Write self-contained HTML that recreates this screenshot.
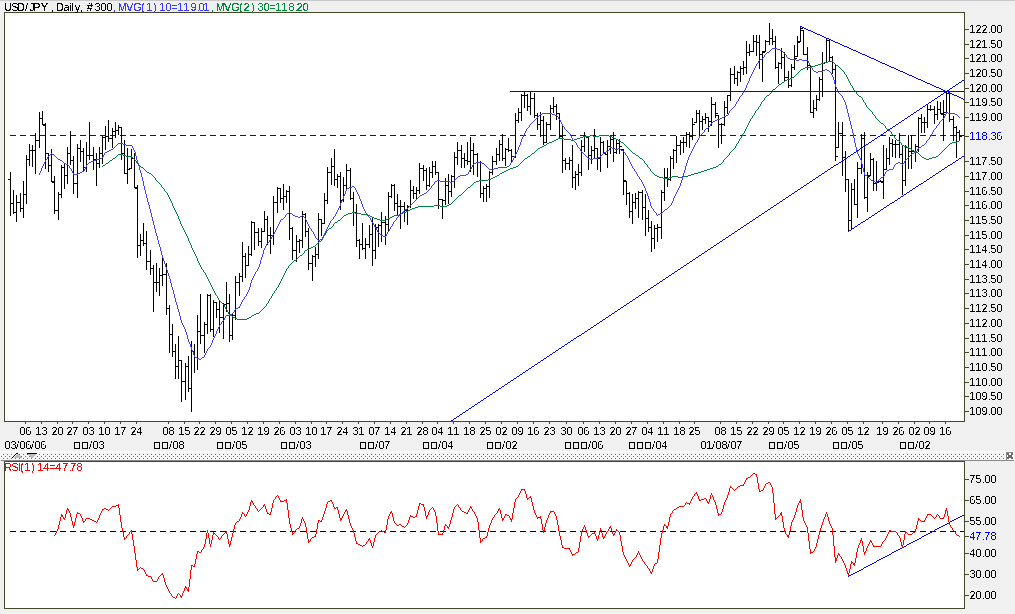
<!DOCTYPE html>
<html><head><meta charset="utf-8"><style>
html,body{margin:0;padding:0;background:#f0f0f0;overflow:hidden}
svg{display:block}
</style></head><body>
<svg width="1015" height="614" viewBox="0 0 1015 614">
<rect x="0" y="0" width="1015" height="614" fill="#f0f0f0"/><rect x="0" y="0" width="1015" height="1" fill="#c8c8c8"/><rect x="4.5" y="12.5" width="960" height="409" fill="#fff" stroke="#48482a" stroke-width="1"/><rect x="4.5" y="461.5" width="960" height="147" fill="#fff" stroke="#48482a" stroke-width="1"/>
<g shape-rendering="crispEdges">
<g clip-path="url(#cm)"><line x1="10" y1="135.5" x2="964" y2="135.5" stroke="#0000ff" stroke-width="1" stroke-dasharray="6 4"/><path d="M10 172h1v44h-1zM8 179h2v1h-2zM11 203h2v1h-2zM13 190h1v24h-1zM11 203h2v1h-2zM14 212h2v1h-2zM16 195h1v27h-1zM14 212h2v1h-2zM17 202h2v1h-2zM20 193h1v19h-1zM18 202h2v1h-2zM21 208h2v1h-2zM23 181h1v37h-1zM21 208h2v1h-2zM24 194h2v1h-2zM26 155h1v49h-1zM24 194h2v1h-2zM27 159h2v1h-2zM29 144h1v22h-1zM27 159h2v1h-2zM30 150h2v1h-2zM32 145h1v22h-1zM30 150h2v1h-2zM33 150h2v1h-2zM35 133h1v41h-1zM33 150h2v1h-2zM36 140h2v1h-2zM39 112h1v36h-1zM37 140h2v1h-2zM40 118h2v1h-2zM42 111h1v14h-1zM40 118h2v1h-2zM43 124h2v1h-2zM45 123h1v46h-1zM43 125h2v1h-2zM46 153h2v1h-2zM48 153h1v19h-1zM46 153h2v1h-2zM49 165h2v1h-2zM51 149h1v33h-1zM49 165h2v1h-2zM52 181h2v1h-2zM54 176h1v38h-1zM52 182h2v1h-2zM55 210h2v1h-2zM58 192h1v28h-1zM56 210h2v1h-2zM59 194h2v1h-2zM61 165h1v33h-1zM59 194h2v1h-2zM62 167h2v1h-2zM64 164h1v25h-1zM62 167h2v1h-2zM65 175h2v1h-2zM67 147h1v37h-1zM65 175h2v1h-2zM68 153h2v1h-2zM70 131h1v34h-1zM68 153h2v1h-2zM71 160h2v1h-2zM73 156h1v38h-1zM71 160h2v1h-2zM74 183h2v1h-2zM77 144h1v54h-1zM75 183h2v1h-2zM78 148h2v1h-2zM80 140h1v22h-1zM78 148h2v1h-2zM81 151h2v1h-2zM83 148h1v24h-1zM81 151h2v1h-2zM84 167h2v1h-2zM86 142h1v30h-1zM84 167h2v1h-2zM87 155h2v1h-2zM89 122h1v38h-1zM87 155h2v1h-2zM90 155h2v1h-2zM93 147h1v23h-1zM91 155h2v1h-2zM94 159h2v1h-2zM96 153h1v33h-1zM94 159h2v1h-2zM97 163h2v1h-2zM99 147h1v21h-1zM97 163h2v1h-2zM100 153h2v1h-2zM102 136h1v28h-1zM100 153h2v1h-2zM103 137h2v1h-2zM105 126h1v24h-1zM103 137h2v1h-2zM106 136h2v1h-2zM108 120h1v22h-1zM106 136h2v1h-2zM109 138h2v1h-2zM112 128h1v20h-1zM110 138h2v1h-2zM113 131h2v1h-2zM115 122h1v16h-1zM113 131h2v1h-2zM116 130h2v1h-2zM118 125h1v10h-1zM116 130h2v1h-2zM119 127h2v1h-2zM121 127h1v33h-1zM119 127h2v1h-2zM122 153h2v1h-2zM124 140h1v34h-1zM122 153h2v1h-2zM125 173h2v1h-2zM127 148h1v36h-1zM125 173h2v1h-2zM128 169h2v1h-2zM131 149h1v20h-1zM129 168h2v1h-2zM132 158h2v1h-2zM134 153h1v35h-1zM132 158h2v1h-2zM135 187h2v1h-2zM137 185h1v73h-1zM135 188h2v1h-2zM138 245h2v1h-2zM140 234h1v22h-1zM138 245h2v1h-2zM141 240h2v1h-2zM143 223h1v23h-1zM141 240h2v1h-2zM144 243h2v1h-2zM146 231h1v39h-1zM144 243h2v1h-2zM147 261h2v1h-2zM150 250h1v25h-1zM148 261h2v1h-2zM151 268h2v1h-2zM153 265h1v47h-1zM151 268h2v1h-2zM154 282h2v1h-2zM156 263h1v29h-1zM154 282h2v1h-2zM157 282h2v1h-2zM159 268h1v28h-1zM157 282h2v1h-2zM160 275h2v1h-2zM162 258h1v28h-1zM160 275h2v1h-2zM163 274h2v1h-2zM166 263h1v52h-1zM164 274h2v1h-2zM167 308h2v1h-2zM169 305h1v48h-1zM167 308h2v1h-2zM170 334h2v1h-2zM172 324h1v33h-1zM170 334h2v1h-2zM173 351h2v1h-2zM175 344h1v35h-1zM173 351h2v1h-2zM176 366h2v1h-2zM178 336h1v43h-1zM176 366h2v1h-2zM179 360h2v1h-2zM181 360h1v42h-1zM179 360h2v1h-2zM182 381h2v1h-2zM185 363h1v37h-1zM183 381h2v1h-2zM186 366h2v1h-2zM188 356h1v36h-1zM186 366h2v1h-2zM189 388h2v1h-2zM191 341h1v71h-1zM189 388h2v1h-2zM192 351h2v1h-2zM194 344h1v29h-1zM192 351h2v1h-2zM195 357h2v1h-2zM197 315h1v55h-1zM195 357h2v1h-2zM198 331h2v1h-2zM200 294h1v50h-1zM198 331h2v1h-2zM201 335h2v1h-2zM204 322h1v31h-1zM202 335h2v1h-2zM205 324h2v1h-2zM207 294h1v40h-1zM205 324h2v1h-2zM208 295h2v1h-2zM210 294h1v38h-1zM208 295h2v1h-2zM211 329h2v1h-2zM213 300h1v37h-1zM211 329h2v1h-2zM214 302h2v1h-2zM216 302h1v16h-1zM214 302h2v1h-2zM217 309h2v1h-2zM219 300h1v33h-1zM217 309h2v1h-2zM220 317h2v1h-2zM223 303h1v36h-1zM221 317h2v1h-2zM224 304h2v1h-2zM226 282h1v30h-1zM224 304h2v1h-2zM227 303h2v1h-2zM229 294h1v48h-1zM227 303h2v1h-2zM230 335h2v1h-2zM232 314h1v26h-1zM230 335h2v1h-2zM233 315h2v1h-2zM235 276h1v44h-1zM233 315h2v1h-2zM236 282h2v1h-2zM239 273h1v23h-1zM237 282h2v1h-2zM240 276h2v1h-2zM242 242h1v40h-1zM240 276h2v1h-2zM243 256h2v1h-2zM245 253h1v25h-1zM243 256h2v1h-2zM246 265h2v1h-2zM248 246h1v20h-1zM246 265h2v1h-2zM249 254h2v1h-2zM251 221h1v35h-1zM249 254h2v1h-2zM252 222h2v1h-2zM254 222h1v28h-1zM252 222h2v1h-2zM255 232h2v1h-2zM258 228h1v18h-1zM256 232h2v1h-2zM259 241h2v1h-2zM261 228h1v20h-1zM259 241h2v1h-2zM262 231h2v1h-2zM264 211h1v21h-1zM262 231h2v1h-2zM265 219h2v1h-2zM267 216h1v29h-1zM265 219h2v1h-2zM268 235h2v1h-2zM270 227h1v27h-1zM268 235h2v1h-2zM271 235h2v1h-2zM273 196h1v49h-1zM271 235h2v1h-2zM274 202h2v1h-2zM277 187h1v26h-1zM275 202h2v1h-2zM278 188h2v1h-2zM280 188h1v15h-1zM278 188h2v1h-2zM281 198h2v1h-2zM283 184h1v26h-1zM281 198h2v1h-2zM284 196h2v1h-2zM286 190h1v13h-1zM284 196h2v1h-2zM287 191h2v1h-2zM289 186h1v54h-1zM287 191h2v1h-2zM290 228h2v1h-2zM292 227h1v33h-1zM290 228h2v1h-2zM293 250h2v1h-2zM296 235h1v27h-1zM294 250h2v1h-2zM297 241h2v1h-2zM299 239h1v14h-1zM297 241h2v1h-2zM300 240h2v1h-2zM302 211h1v37h-1zM300 240h2v1h-2zM303 214h2v1h-2zM305 213h1v24h-1zM303 214h2v1h-2zM306 231h2v1h-2zM308 228h1v42h-1zM306 231h2v1h-2zM309 263h2v1h-2zM312 255h1v26h-1zM310 263h2v1h-2zM313 256h2v1h-2zM315 247h1v20h-1zM313 256h2v1h-2zM316 254h2v1h-2zM318 213h1v46h-1zM316 254h2v1h-2zM319 219h2v1h-2zM321 219h1v17h-1zM319 219h2v1h-2zM322 223h2v1h-2zM324 193h1v31h-1zM322 223h2v1h-2zM325 200h2v1h-2zM327 167h1v37h-1zM325 200h2v1h-2zM328 172h2v1h-2zM331 158h1v27h-1zM329 172h2v1h-2zM332 166h2v1h-2zM334 149h1v37h-1zM332 166h2v1h-2zM335 179h2v1h-2zM337 174h1v14h-1zM335 179h2v1h-2zM338 176h2v1h-2zM340 172h1v38h-1zM338 176h2v1h-2zM341 200h2v1h-2zM343 177h1v25h-1zM341 200h2v1h-2zM344 185h2v1h-2zM346 164h1v26h-1zM344 185h2v1h-2zM347 170h2v1h-2zM350 168h1v32h-1zM348 170h2v1h-2zM351 198h2v1h-2zM353 192h1v34h-1zM351 198h2v1h-2zM354 212h2v1h-2zM356 204h1v43h-1zM354 212h2v1h-2zM357 240h2v1h-2zM359 239h1v20h-1zM357 240h2v1h-2zM360 244h2v1h-2zM362 223h1v27h-1zM360 244h2v1h-2zM363 248h2v1h-2zM365 238h1v21h-1zM363 248h2v1h-2zM366 244h2v1h-2zM369 225h1v23h-1zM367 244h2v1h-2zM370 234h2v1h-2zM372 218h1v48h-1zM370 234h2v1h-2zM373 250h2v1h-2zM375 224h1v35h-1zM373 250h2v1h-2zM376 227h2v1h-2zM378 224h1v23h-1zM376 227h2v1h-2zM379 225h2v1h-2zM381 212h1v30h-1zM379 225h2v1h-2zM382 222h2v1h-2zM385 216h1v29h-1zM383 222h2v1h-2zM386 224h2v1h-2zM388 192h1v40h-1zM386 224h2v1h-2zM389 196h2v1h-2zM391 184h1v14h-1zM389 196h2v1h-2zM392 185h2v1h-2zM394 184h1v27h-1zM392 185h2v1h-2zM395 203h2v1h-2zM397 194h1v22h-1zM395 203h2v1h-2zM398 206h2v1h-2zM400 200h1v29h-1zM398 206h2v1h-2zM401 206h2v1h-2zM404 202h1v20h-1zM402 206h2v1h-2zM405 210h2v1h-2zM407 205h1v20h-1zM405 210h2v1h-2zM408 206h2v1h-2zM410 180h1v28h-1zM408 206h2v1h-2zM411 190h2v1h-2zM413 186h1v13h-1zM411 190h2v1h-2zM414 193h2v1h-2zM416 187h1v13h-1zM414 193h2v1h-2zM417 190h2v1h-2zM419 163h1v31h-1zM417 190h2v1h-2zM420 168h2v1h-2zM423 165h1v16h-1zM421 168h2v1h-2zM424 170h2v1h-2zM426 168h1v22h-1zM424 170h2v1h-2zM427 185h2v1h-2zM429 167h1v20h-1zM427 185h2v1h-2zM430 172h2v1h-2zM432 161h1v17h-1zM430 172h2v1h-2zM433 166h2v1h-2zM435 161h1v14h-1zM433 166h2v1h-2zM436 172h2v1h-2zM438 172h1v37h-1zM436 172h2v1h-2zM439 199h2v1h-2zM442 199h1v20h-1zM440 199h2v1h-2zM443 200h2v1h-2zM445 178h1v27h-1zM443 200h2v1h-2zM446 185h2v1h-2zM448 174h1v30h-1zM446 185h2v1h-2zM449 191h2v1h-2zM451 175h1v22h-1zM449 191h2v1h-2zM452 176h2v1h-2zM454 152h1v36h-1zM452 176h2v1h-2zM455 157h2v1h-2zM457 142h1v23h-1zM455 157h2v1h-2zM458 150h2v1h-2zM461 145h1v23h-1zM459 150h2v1h-2zM462 158h2v1h-2zM464 153h1v15h-1zM462 158h2v1h-2zM465 160h2v1h-2zM467 142h1v23h-1zM465 160h2v1h-2zM468 161h2v1h-2zM470 137h1v35h-1zM468 161h2v1h-2zM471 150h2v1h-2zM473 143h1v32h-1zM471 150h2v1h-2zM474 154h2v1h-2zM477 153h1v24h-1zM475 154h2v1h-2zM478 162h2v1h-2zM480 161h1v37h-1zM478 162h2v1h-2zM481 193h2v1h-2zM483 186h1v16h-1zM481 193h2v1h-2zM484 188h2v1h-2zM486 184h1v18h-1zM484 188h2v1h-2zM487 186h2v1h-2zM489 171h1v27h-1zM487 186h2v1h-2zM490 172h2v1h-2zM492 156h1v19h-1zM490 172h2v1h-2zM493 161h2v1h-2zM496 148h1v17h-1zM494 161h2v1h-2zM497 154h2v1h-2zM499 140h1v21h-1zM497 154h2v1h-2zM500 144h2v1h-2zM502 134h1v27h-1zM500 144h2v1h-2zM503 158h2v1h-2zM505 148h1v18h-1zM503 158h2v1h-2zM506 149h2v1h-2zM508 138h1v14h-1zM506 149h2v1h-2zM509 150h2v1h-2zM511 149h1v14h-1zM509 150h2v1h-2zM512 156h2v1h-2zM515 113h1v45h-1zM513 156h2v1h-2zM516 120h2v1h-2zM518 108h1v15h-1zM516 120h2v1h-2zM519 112h2v1h-2zM521 94h1v27h-1zM519 112h2v1h-2zM522 95h2v1h-2zM524 92h1v16h-1zM522 95h2v1h-2zM525 95h2v1h-2zM527 94h1v17h-1zM525 95h2v1h-2zM528 106h2v1h-2zM530 92h1v23h-1zM528 106h2v1h-2zM531 98h2v1h-2zM534 93h1v25h-1zM532 98h2v1h-2zM535 115h2v1h-2zM537 113h1v17h-1zM535 115h2v1h-2zM538 124h2v1h-2zM540 112h1v25h-1zM538 124h2v1h-2zM541 120h2v1h-2zM543 116h1v29h-1zM541 120h2v1h-2zM544 142h2v1h-2zM546 122h1v21h-1zM544 142h2v1h-2zM547 124h2v1h-2zM550 105h1v25h-1zM548 124h2v1h-2zM551 108h2v1h-2zM553 97h1v16h-1zM551 108h2v1h-2zM554 106h2v1h-2zM556 104h1v16h-1zM554 106h2v1h-2zM557 113h2v1h-2zM559 113h1v25h-1zM557 113h2v1h-2zM560 136h2v1h-2zM562 125h1v48h-1zM560 136h2v1h-2zM563 160h2v1h-2zM565 158h1v12h-1zM563 160h2v1h-2zM566 163h2v1h-2zM569 157h1v13h-1zM567 163h2v1h-2zM570 160h2v1h-2zM572 145h1v43h-1zM570 160h2v1h-2zM573 177h2v1h-2zM575 171h1v19h-1zM573 177h2v1h-2zM576 174h2v1h-2zM578 164h1v22h-1zM576 174h2v1h-2zM579 172h2v1h-2zM581 140h1v36h-1zM579 172h2v1h-2zM582 146h2v1h-2zM584 132h1v20h-1zM582 146h2v1h-2zM585 136h2v1h-2zM588 137h1v33h-1zM586 137h2v1h-2zM589 155h2v1h-2zM591 146h1v18h-1zM589 155h2v1h-2zM592 150h2v1h-2zM594 129h1v29h-1zM592 150h2v1h-2zM595 148h2v1h-2zM597 148h1v22h-1zM595 148h2v1h-2zM598 158h2v1h-2zM600 137h1v35h-1zM598 158h2v1h-2zM601 142h2v1h-2zM603 141h1v13h-1zM601 142h2v1h-2zM604 153h2v1h-2zM607 140h1v28h-1zM605 154h2v1h-2zM608 146h2v1h-2zM610 137h1v17h-1zM608 146h2v1h-2zM611 139h2v1h-2zM613 132h1v30h-1zM611 139h2v1h-2zM614 152h2v1h-2zM616 139h1v15h-1zM614 152h2v1h-2zM617 143h2v1h-2zM619 139h1v15h-1zM617 143h2v1h-2zM620 146h2v1h-2zM623 149h1v46h-1zM621 149h2v1h-2zM624 180h2v1h-2zM626 181h1v24h-1zM624 181h2v1h-2zM627 193h2v1h-2zM629 192h1v26h-1zM627 193h2v1h-2zM630 211h2v1h-2zM632 194h1v30h-1zM630 211h2v1h-2zM633 202h2v1h-2zM635 193h1v16h-1zM633 202h2v1h-2zM636 198h2v1h-2zM638 191h1v27h-1zM636 198h2v1h-2zM639 192h2v1h-2zM642 190h1v30h-1zM640 192h2v1h-2zM643 207h2v1h-2zM645 194h1v42h-1zM643 207h2v1h-2zM646 218h2v1h-2zM648 210h1v22h-1zM646 218h2v1h-2zM649 227h2v1h-2zM651 221h1v31h-1zM649 227h2v1h-2zM652 238h2v1h-2zM654 225h1v24h-1zM652 238h2v1h-2zM655 228h2v1h-2zM657 224h1v18h-1zM655 228h2v1h-2zM658 227h2v1h-2zM661 190h1v49h-1zM659 227h2v1h-2zM662 192h2v1h-2zM664 168h1v33h-1zM662 192h2v1h-2zM665 177h2v1h-2zM667 168h1v19h-1zM665 177h2v1h-2zM668 179h2v1h-2zM670 156h1v25h-1zM668 179h2v1h-2zM671 158h2v1h-2zM673 149h1v20h-1zM671 158h2v1h-2zM674 150h2v1h-2zM676 136h1v27h-1zM674 150h2v1h-2zM677 145h2v1h-2zM680 140h1v15h-1zM678 145h2v1h-2zM681 142h2v1h-2zM683 137h1v16h-1zM681 142h2v1h-2zM684 142h2v1h-2zM686 132h1v15h-1zM684 142h2v1h-2zM687 134h2v1h-2zM689 132h1v16h-1zM687 134h2v1h-2zM690 136h2v1h-2zM692 118h1v22h-1zM690 136h2v1h-2zM693 124h2v1h-2zM696 110h1v13h-1zM694 122h2v1h-2zM697 113h2v1h-2zM699 110h1v28h-1zM697 113h2v1h-2zM700 121h2v1h-2zM702 116h1v14h-1zM700 121h2v1h-2zM703 119h2v1h-2zM705 113h1v11h-1zM703 119h2v1h-2zM706 117h2v1h-2zM708 117h1v15h-1zM706 117h2v1h-2zM709 121h2v1h-2zM711 97h1v29h-1zM709 121h2v1h-2zM712 104h2v1h-2zM715 102h1v16h-1zM713 104h2v1h-2zM716 113h2v1h-2zM718 115h1v33h-1zM716 115h2v1h-2zM719 124h2v1h-2zM721 123h1v21h-1zM719 124h2v1h-2zM722 124h2v1h-2zM724 101h1v25h-1zM722 124h2v1h-2zM725 107h2v1h-2zM727 95h1v19h-1zM725 107h2v1h-2zM728 95h2v1h-2zM730 68h1v33h-1zM728 95h2v1h-2zM731 74h2v1h-2zM734 66h1v18h-1zM732 74h2v1h-2zM735 78h2v1h-2zM737 71h1v15h-1zM735 78h2v1h-2zM738 72h2v1h-2zM740 66h1v16h-1zM738 72h2v1h-2zM741 68h2v1h-2zM743 61h1v14h-1zM741 68h2v1h-2zM744 67h2v1h-2zM746 41h1v33h-1zM744 67h2v1h-2zM747 52h2v1h-2zM749 44h1v12h-1zM747 52h2v1h-2zM750 51h2v1h-2zM753 35h1v17h-1zM751 51h2v1h-2zM754 41h2v1h-2zM756 35h1v21h-1zM754 41h2v1h-2zM757 42h2v1h-2zM759 35h1v34h-1zM757 42h2v1h-2zM760 54h2v1h-2zM762 51h1v31h-1zM760 54h2v1h-2zM763 52h2v1h-2zM765 40h1v12h-1zM763 51h2v1h-2zM766 41h2v1h-2zM769 23h1v22h-1zM767 41h2v1h-2zM770 38h2v1h-2zM772 29h1v16h-1zM770 38h2v1h-2zM773 41h2v1h-2zM775 36h1v33h-1zM773 41h2v1h-2zM776 67h2v1h-2zM778 62h1v22h-1zM776 67h2v1h-2zM779 63h2v1h-2zM781 48h1v21h-1zM779 63h2v1h-2zM782 57h2v1h-2zM784 52h1v29h-1zM782 57h2v1h-2zM785 77h2v1h-2zM788 71h1v17h-1zM786 77h2v1h-2zM789 85h2v1h-2zM791 64h1v23h-1zM789 85h2v1h-2zM792 67h2v1h-2zM794 45h1v25h-1zM792 67h2v1h-2zM795 58h2v1h-2zM797 36h1v21h-1zM795 56h2v1h-2zM798 42h2v1h-2zM800 26h1v16h-1zM798 41h2v1h-2zM801 28h2v1h-2zM803 30h1v25h-1zM801 30h2v1h-2zM804 54h2v1h-2zM807 47h1v23h-1zM805 54h2v1h-2zM808 65h2v1h-2zM810 65h1v48h-1zM808 65h2v1h-2zM811 112h2v1h-2zM813 100h1v18h-1zM811 112h2v1h-2zM814 108h2v1h-2zM816 95h1v16h-1zM814 108h2v1h-2zM817 99h2v1h-2zM819 77h1v24h-1zM817 99h2v1h-2zM820 79h2v1h-2zM822 52h1v45h-1zM820 79h2v1h-2zM823 63h2v1h-2zM826 38h1v25h-1zM824 62h2v1h-2zM827 40h2v1h-2zM829 39h1v22h-1zM827 40h2v1h-2zM830 57h2v1h-2zM832 56h1v18h-1zM830 57h2v1h-2zM833 69h2v1h-2zM835 65h1v96h-1zM833 69h2v1h-2zM836 156h2v1h-2zM838 122h1v26h-1zM836 147h2v1h-2zM839 133h2v1h-2zM842 122h1v54h-1zM840 133h2v1h-2zM843 157h2v1h-2zM845 151h1v41h-1zM843 157h2v1h-2zM846 179h2v1h-2zM848 179h1v52h-1zM846 179h2v1h-2zM849 220h2v1h-2zM851 183h1v47h-1zM849 220h2v1h-2zM852 189h2v1h-2zM854 179h1v26h-1zM852 189h2v1h-2zM855 204h2v1h-2zM857 162h1v56h-1zM855 204h2v1h-2zM858 168h2v1h-2zM861 134h1v40h-1zM859 168h2v1h-2zM862 138h2v1h-2zM864 132h1v67h-1zM862 138h2v1h-2zM865 197h2v1h-2zM867 172h1v40h-1zM865 197h2v1h-2zM868 176h2v1h-2zM870 153h1v23h-1zM868 175h2v1h-2zM871 159h2v1h-2zM873 158h1v33h-1zM871 159h2v1h-2zM874 183h2v1h-2zM876 161h1v30h-1zM874 183h2v1h-2zM877 182h2v1h-2zM880 180h1v2h-1zM878 181h2v1h-2zM881 181h2v1h-2zM883 145h1v54h-1zM881 182h2v1h-2zM884 169h2v1h-2zM886 148h1v22h-1zM884 169h2v1h-2zM887 158h2v1h-2zM889 137h1v28h-1zM887 158h2v1h-2zM890 143h2v1h-2zM892 139h1v18h-1zM890 143h2v1h-2zM893 144h2v1h-2zM895 140h1v18h-1zM893 144h2v1h-2zM896 144h2v1h-2zM899 133h1v25h-1zM897 144h2v1h-2zM900 154h2v1h-2zM902 146h1v49h-1zM900 154h2v1h-2zM903 180h2v1h-2zM905 145h1v41h-1zM903 180h2v1h-2zM906 147h2v1h-2zM908 135h1v34h-1zM906 147h2v1h-2zM909 151h2v1h-2zM911 135h1v34h-1zM909 151h2v1h-2zM912 151h2v1h-2zM915 144h1v18h-1zM913 151h2v1h-2zM916 146h2v1h-2zM918 117h1v35h-1zM916 146h2v1h-2zM919 118h2v1h-2zM921 114h1v19h-1zM919 118h2v1h-2zM922 122h2v1h-2zM924 117h1v16h-1zM922 122h2v1h-2zM925 122h2v1h-2zM927 105h1v23h-1zM925 122h2v1h-2zM928 109h2v1h-2zM930 105h1v6h-1zM928 109h2v1h-2zM931 109h2v1h-2zM934 106h1v18h-1zM932 109h2v1h-2zM935 114h2v1h-2zM937 101h1v19h-1zM935 114h2v1h-2zM938 109h2v1h-2zM940 102h1v12h-1zM938 109h2v1h-2zM941 113h2v1h-2zM943 100h1v41h-1zM941 114h2v1h-2zM944 114h2v1h-2zM946 91h1v22h-1zM944 112h2v1h-2zM947 93h2v1h-2zM949 91h1v31h-1zM947 93h2v1h-2zM950 119h2v1h-2zM953 116h1v25h-1zM951 119h2v1h-2zM954 127h2v1h-2zM956 126h1v32h-1zM954 127h2v1h-2zM957 132h2v1h-2zM959 130h1v10h-1zM957 132h2v1h-2zM960 136h2v1h-2z" fill="#000"/><path d="M194 252h1v1h-1zM304 252h1v1h-1zM212 288h1v1h-1zM276 288h1v1h-1zM204 272h1v1h-1zM285 272h1v1h-1zM176 213h1v1h-1zM348 213h4v1h-4zM355 213h6v1h-6zM401 213h2v1h-2zM192 248h1v1h-1zM309 248h2v1h-2zM558 138h6v1h-6zM577 138h3v1h-3zM614 138h2v1h-2zM740 138h1v1h-1zM895 138h1v1h-1zM215 293h1v1h-1zM273 293h1v1h-1zM757 109h1v1h-1zM869 109h1v1h-1zM549 142h3v1h-3zM621 142h2v1h-2zM738 142h1v1h-1zM900 142h1v1h-1zM952 142h5v1h-5zM172 205h1v1h-1zM434 205h6v1h-6zM447 205h2v1h-2zM546 144h1v1h-1zM624 144h1v1h-1zM736 144h1v1h-1zM901 144h1v1h-1zM949 144h1v1h-1zM542 146h2v1h-2zM626 146h1v1h-1zM735 146h1v1h-1zM904 146h3v1h-3zM947 146h1v1h-1zM805 67h7v1h-7zM839 67h1v1h-1zM556 139h2v1h-2zM564 139h7v1h-7zM574 139h3v1h-3zM616 139h2v1h-2zM739 139h1v1h-1zM896 139h1v1h-1zM155 178h1v1h-1zM491 178h2v1h-2zM663 178h6v1h-6zM764 99h1v1h-1zM862 99h1v1h-1zM228 313h1v1h-1zM256 313h3v1h-3zM191 245h1v1h-1zM315 245h1v1h-1zM147 172h2v1h-2zM502 172h2v1h-2zM652 172h1v1h-1zM698 172h3v1h-3zM770 93h1v1h-1zM856 93h1v1h-1zM209 282h1v1h-1zM280 282h1v1h-1zM812 66h3v1h-3zM838 66h1v1h-1zM152 175h1v1h-1zM497 175h2v1h-2zM655 175h2v1h-2zM688 175h3v1h-3zM197 259h1v1h-1zM296 259h1v1h-1zM540 147h2v1h-2zM627 147h1v1h-1zM735 147h1v1h-1zM907 147h2v1h-2zM946 147h1v1h-1zM761 102h1v1h-1zM864 102h1v1h-1zM750 120h1v1h-1zM878 120h1v1h-1zM554 140h2v1h-2zM571 140h3v1h-3zM618 140h2v1h-2zM739 140h1v1h-1zM897 140h2v1h-2zM959 140h1v1h-1zM113 158h2v1h-2zM133 158h1v1h-1zM525 158h2v1h-2zM640 158h2v1h-2zM725 158h1v1h-1zM924 158h2v1h-2zM929 158h3v1h-3zM144 169h1v1h-1zM508 169h2v1h-2zM650 169h1v1h-1zM707 169h3v1h-3zM146 171h1v1h-1zM504 171h2v1h-2zM651 171h1v1h-1zM701 171h3v1h-3zM227 310h1v1h-1zM261 310h1v1h-1zM179 220h1v1h-1zM338 220h2v1h-2zM380 220h6v1h-6zM183 229h1v1h-1zM328 229h1v1h-1zM230 315h2v1h-2zM252 315h2v1h-2zM173 206h1v1h-1zM418 206h16v1h-16zM440 206h7v1h-7zM157 181h1v1h-1zM476 181h3v1h-3zM777 86h1v1h-1zM852 86h1v1h-1zM177 214h1v1h-1zM346 214h2v1h-2zM361 214h6v1h-6zM399 214h2v1h-2zM821 63h3v1h-3zM834 63h1v1h-1zM175 211h1v1h-1zM406 211h2v1h-2zM748 123h1v1h-1zM881 123h2v1h-2zM182 226h1v1h-1zM332 226h1v1h-1zM108 162h1v1h-1zM136 162h1v1h-1zM521 162h1v1h-1zM644 162h1v1h-1zM722 162h1v1h-1zM145 170h1v1h-1zM506 170h2v1h-2zM650 170h1v1h-1zM704 170h3v1h-3zM779 84h2v1h-2zM850 84h1v1h-1zM118 154h5v1h-5zM531 154h1v1h-1zM635 154h1v1h-1zM729 154h1v1h-1zM919 154h1v1h-1zM939 154h1v1h-1zM159 183h1v1h-1zM473 183h1v1h-1zM154 177h1v1h-1zM493 177h2v1h-2zM659 177h4v1h-4zM669 177h3v1h-3zM678 177h4v1h-4zM590 135h3v1h-3zM599 135h10v1h-10zM742 135h1v1h-1zM893 135h1v1h-1zM763 100h1v1h-1zM863 100h1v1h-1zM544 145h2v1h-2zM625 145h1v1h-1zM736 145h1v1h-1zM902 145h2v1h-2zM948 145h1v1h-1zM760 105h1v1h-1zM866 105h1v1h-1zM116 156h1v1h-1zM126 156h6v1h-6zM528 156h2v1h-2zM638 156h1v1h-1zM727 156h1v1h-1zM921 156h1v1h-1zM936 156h2v1h-2zM149 173h2v1h-2zM500 173h2v1h-2zM653 173h1v1h-1zM694 173h4v1h-4zM180 223h1v1h-1zM334 223h1v1h-1zM141 167h2v1h-2zM513 167h3v1h-3zM648 167h1v1h-1zM713 167h3v1h-3zM583 136h7v1h-7zM593 136h6v1h-6zM609 136h3v1h-3zM741 136h1v1h-1zM894 136h1v1h-1zM784 81h1v1h-1zM849 81h1v1h-1zM171 201h1v1h-1zM453 201h1v1h-1zM745 129h1v1h-1zM887 129h2v1h-2zM803 68h2v1h-2zM840 68h1v1h-1zM815 65h3v1h-3zM836 65h2v1h-2zM105 164h1v1h-1zM138 164h1v1h-1zM519 164h1v1h-1zM646 164h1v1h-1zM719 164h2v1h-2zM537 149h1v1h-1zM629 149h1v1h-1zM733 149h1v1h-1zM911 149h1v1h-1zM944 149h1v1h-1zM211 286h1v1h-1zM278 286h1v1h-1zM745 130h1v1h-1zM889 130h1v1h-1zM143 168h1v1h-1zM510 168h3v1h-3zM649 168h1v1h-1zM710 168h3v1h-3zM212 287h1v1h-1zM277 287h1v1h-1zM237 319h10v1h-10zM176 212h1v1h-1zM352 212h3v1h-3zM403 212h3v1h-3zM177 215h1v1h-1zM344 215h2v1h-2zM367 215h3v1h-3zM394 215h5v1h-5zM172 204h1v1h-1zM449 204h2v1h-2zM191 247h1v1h-1zM311 247h2v1h-2zM186 234h1v1h-1zM325 234h1v1h-1zM771 91h1v1h-1zM855 91h1v1h-1zM208 280h1v1h-1zM281 280h1v1h-1zM535 151h1v1h-1zM631 151h1v1h-1zM731 151h1v1h-1zM914 151h2v1h-2zM942 151h1v1h-1zM179 219h1v1h-1zM340 219h1v1h-1zM377 219h3v1h-3zM386 219h2v1h-2zM764 98h1v1h-1zM862 98h1v1h-1zM161 186h1v1h-1zM470 186h1v1h-1zM787 79h3v1h-3zM848 79h1v1h-1zM180 222h1v1h-1zM335 222h2v1h-2zM201 268h1v1h-1zM287 268h1v1h-1zM153 176h1v1h-1zM495 176h2v1h-2zM657 176h2v1h-2zM672 176h6v1h-6zM682 176h6v1h-6zM233 317h2v1h-2zM249 317h2v1h-2zM771 92h1v1h-1zM856 92h1v1h-1zM182 227h1v1h-1zM331 227h1v1h-1zM192 249h1v1h-1zM307 249h2v1h-2zM112 159h1v1h-1zM134 159h1v1h-1zM524 159h1v1h-1zM642 159h1v1h-1zM724 159h1v1h-1zM926 159h3v1h-3zM189 241h1v1h-1zM319 241h2v1h-2zM183 228h1v1h-1zM329 228h2v1h-2zM110 160h2v1h-2zM135 160h1v1h-1zM523 160h1v1h-1zM643 160h1v1h-1zM723 160h1v1h-1zM536 150h1v1h-1zM630 150h1v1h-1zM732 150h1v1h-1zM912 150h2v1h-2zM943 150h1v1h-1zM824 62h4v1h-4zM833 62h1v1h-1zM193 250h1v1h-1zM305 250h2v1h-2zM759 106h1v1h-1zM866 106h1v1h-1zM178 217h1v1h-1zM342 217h1v1h-1zM372 217h2v1h-2zM390 217h2v1h-2zM184 231h1v1h-1zM326 231h1v1h-1zM117 155h1v1h-1zM123 155h3v1h-3zM530 155h1v1h-1zM636 155h2v1h-2zM728 155h1v1h-1zM920 155h1v1h-1zM938 155h1v1h-1zM750 119h1v1h-1zM877 119h1v1h-1zM190 244h1v1h-1zM316 244h1v1h-1zM785 80h2v1h-2zM848 80h1v1h-1zM755 111h1v1h-1zM871 111h1v1h-1zM211 285h1v1h-1zM278 285h1v1h-1zM175 210h1v1h-1zM408 210h2v1h-2zM169 197h1v1h-1zM457 197h1v1h-1zM222 303h1v1h-1zM267 303h1v1h-1zM188 238h1v1h-1zM322 238h1v1h-1zM178 218h1v1h-1zM341 218h1v1h-1zM374 218h3v1h-3zM388 218h2v1h-2zM828 61h5v1h-5zM742 134h1v1h-1zM892 134h1v1h-1zM213 289h1v1h-1zM276 289h1v1h-1zM767 95h2v1h-2zM858 95h1v1h-1zM798 72h1v1h-1zM844 72h1v1h-1zM790 78h2v1h-2zM847 78h1v1h-1zM160 184h1v1h-1zM472 184h1v1h-1zM534 152h1v1h-1zM632 152h1v1h-1zM730 152h1v1h-1zM916 152h2v1h-2zM941 152h1v1h-1zM792 77h2v1h-2zM847 77h1v1h-1zM751 118h1v1h-1zM876 118h1v1h-1zM197 260h1v1h-1zM294 260h2v1h-2zM161 185h1v1h-1zM471 185h1v1h-1zM532 153h2v1h-2zM633 153h2v1h-2zM729 153h1v1h-1zM918 153h1v1h-1zM940 153h1v1h-1zM552 141h2v1h-2zM620 141h1v1h-1zM738 141h1v1h-1zM899 141h1v1h-1zM957 141h2v1h-2zM818 64h3v1h-3zM835 64h1v1h-1zM229 314h1v1h-1zM254 314h2v1h-2zM196 257h1v1h-1zM298 257h1v1h-1zM217 296h1v1h-1zM271 296h1v1h-1zM743 133h1v1h-1zM891 133h1v1h-1zM756 110h1v1h-1zM870 110h1v1h-1zM235 318h2v1h-2zM247 318h2v1h-2zM199 263h1v1h-1zM291 263h1v1h-1zM580 137h3v1h-3zM612 137h2v1h-2zM741 137h1v1h-1zM894 137h1v1h-1zM158 182h1v1h-1zM474 182h2v1h-2zM747 125h1v1h-1zM884 125h1v1h-1zM165 191h1v1h-1zM464 191h1v1h-1zM191 246h1v1h-1zM313 246h2v1h-2zM782 82h2v1h-2zM849 82h1v1h-1zM189 242h1v1h-1zM318 242h1v1h-1zM207 278h1v1h-1zM282 278h1v1h-1zM210 283h1v1h-1zM279 283h1v1h-1zM174 208h1v1h-1zM412 208h3v1h-3zM200 266h1v1h-1zM288 266h1v1h-1zM202 269h1v1h-1zM286 269h1v1h-1zM203 271h1v1h-1zM285 271h1v1h-1zM775 88h1v1h-1zM853 88h1v1h-1zM232 316h1v1h-1zM251 316h1v1h-1zM178 216h1v1h-1zM343 216h1v1h-1zM370 216h2v1h-2zM392 216h2v1h-2zM801 69h2v1h-2zM841 69h1v1h-1zM164 190h1v1h-1zM465 190h1v1h-1zM748 124h1v1h-1zM883 124h1v1h-1zM210 284h1v1h-1zM279 284h1v1h-1zM761 103h1v1h-1zM865 103h1v1h-1zM171 202h1v1h-1zM452 202h1v1h-1zM190 243h1v1h-1zM317 243h1v1h-1zM195 254h1v1h-1zM302 254h1v1h-1zM180 221h1v1h-1zM337 221h1v1h-1zM225 308h1v1h-1zM263 308h1v1h-1zM221 302h1v1h-1zM268 302h1v1h-1zM155 179h1v1h-1zM488 179h3v1h-3zM115 157h1v1h-1zM132 157h1v1h-1zM527 157h1v1h-1zM639 157h1v1h-1zM726 157h1v1h-1zM922 157h2v1h-2zM932 157h4v1h-4zM744 132h1v1h-1zM891 132h1v1h-1zM206 276h1v1h-1zM283 276h1v1h-1zM106 163h2v1h-2zM137 163h1v1h-1zM520 163h1v1h-1zM645 163h1v1h-1zM721 163h1v1h-1zM185 233h1v1h-1zM325 233h1v1h-1zM547 143h2v1h-2zM623 143h1v1h-1zM737 143h1v1h-1zM901 143h1v1h-1zM950 143h2v1h-2zM199 264h1v1h-1zM290 264h1v1h-1zM207 277h1v1h-1zM282 277h1v1h-1zM170 199h1v1h-1zM455 199h1v1h-1zM174 209h1v1h-1zM410 209h2v1h-2zM184 230h1v1h-1zM327 230h1v1h-1zM200 265h1v1h-1zM289 265h1v1h-1zM181 224h1v1h-1zM333 224h1v1h-1zM203 270h1v1h-1zM286 270h1v1h-1zM754 113h1v1h-1zM872 113h1v1h-1zM746 127h1v1h-1zM885 127h1v1h-1zM766 96h1v1h-1zM859 96h2v1h-2zM188 240h1v1h-1zM321 240h1v1h-1zM223 304h1v1h-1zM266 304h1v1h-1zM219 300h1v1h-1zM269 300h1v1h-1zM151 174h1v1h-1zM499 174h1v1h-1zM654 174h1v1h-1zM691 174h3v1h-3zM156 180h1v1h-1zM479 180h9v1h-9zM744 131h1v1h-1zM890 131h1v1h-1zM749 121h1v1h-1zM879 121h1v1h-1zM224 306h1v1h-1zM265 306h1v1h-1zM538 148h2v1h-2zM628 148h1v1h-1zM734 148h1v1h-1zM909 148h2v1h-2zM945 148h1v1h-1zM103 165h2v1h-2zM139 165h1v1h-1zM518 165h1v1h-1zM647 165h1v1h-1zM718 165h1v1h-1zM749 122h1v1h-1zM880 122h1v1h-1zM198 262h1v1h-1zM292 262h1v1h-1zM206 275h1v1h-1zM283 275h1v1h-1zM170 200h1v1h-1zM454 200h1v1h-1zM198 261h1v1h-1zM293 261h1v1h-1zM164 189h1v1h-1zM466 189h1v1h-1zM163 188h1v1h-1zM467 188h1v1h-1zM746 128h1v1h-1zM886 128h1v1h-1zM168 195h1v1h-1zM459 195h2v1h-2zM800 70h1v1h-1zM842 70h1v1h-1zM173 207h1v1h-1zM415 207h3v1h-3zM186 235h1v1h-1zM324 235h1v1h-1zM218 299h1v1h-1zM269 299h1v1h-1zM102 166h1v1h-1zM140 166h1v1h-1zM516 166h2v1h-2zM647 166h1v1h-1zM716 166h2v1h-2zM227 311h1v1h-1zM260 311h1v1h-1zM209 281h1v1h-1zM280 281h1v1h-1zM162 187h1v1h-1zM468 187h2v1h-2zM753 115h1v1h-1zM874 115h1v1h-1zM205 274h1v1h-1zM284 274h1v1h-1zM195 255h1v1h-1zM300 255h2v1h-2zM109 161h1v1h-1zM136 161h1v1h-1zM522 161h1v1h-1zM644 161h1v1h-1zM723 161h1v1h-1zM773 89h2v1h-2zM853 89h1v1h-1zM166 192h1v1h-1zM463 192h1v1h-1zM201 267h1v1h-1zM288 267h1v1h-1zM797 73h1v1h-1zM844 73h1v1h-1zM167 194h1v1h-1zM461 194h1v1h-1zM781 83h1v1h-1zM850 83h1v1h-1zM208 279h1v1h-1zM281 279h1v1h-1zM795 75h1v1h-1zM846 75h1v1h-1zM169 198h1v1h-1zM456 198h1v1h-1zM172 203h1v1h-1zM451 203h1v1h-1zM205 273h1v1h-1zM284 273h1v1h-1zM197 258h1v1h-1zM297 258h1v1h-1zM765 97h1v1h-1zM861 97h1v1h-1zM760 104h1v1h-1zM865 104h1v1h-1zM747 126h1v1h-1zM885 126h1v1h-1zM216 295h1v1h-1zM272 295h1v1h-1zM187 237h1v1h-1zM323 237h1v1h-1zM168 196h1v1h-1zM458 196h1v1h-1zM220 301h1v1h-1zM268 301h1v1h-1zM193 251h1v1h-1zM304 251h1v1h-1zM215 294h1v1h-1zM272 294h1v1h-1zM226 309h1v1h-1zM262 309h1v1h-1zM799 71h1v1h-1zM843 71h1v1h-1zM762 101h1v1h-1zM863 101h1v1h-1zM772 90h1v1h-1zM854 90h1v1h-1zM187 236h1v1h-1zM323 236h1v1h-1zM752 117h1v1h-1zM875 117h1v1h-1zM213 290h1v1h-1zM275 290h1v1h-1zM754 114h1v1h-1zM873 114h1v1h-1zM225 307h1v1h-1zM264 307h1v1h-1zM196 256h1v1h-1zM299 256h1v1h-1zM194 253h1v1h-1zM303 253h1v1h-1zM217 297h1v1h-1zM271 297h1v1h-1zM185 232h1v1h-1zM326 232h1v1h-1zM214 292h1v1h-1zM274 292h1v1h-1zM228 312h1v1h-1zM259 312h1v1h-1zM218 298h1v1h-1zM270 298h1v1h-1zM752 116h1v1h-1zM875 116h1v1h-1zM755 112h1v1h-1zM872 112h1v1h-1zM224 305h1v1h-1zM266 305h1v1h-1zM188 239h1v1h-1zM322 239h1v1h-1zM778 85h1v1h-1zM851 85h1v1h-1zM181 225h1v1h-1zM333 225h1v1h-1zM758 108h1v1h-1zM868 108h1v1h-1zM214 291h1v1h-1zM274 291h1v1h-1zM794 76h1v1h-1zM846 76h1v1h-1zM167 193h1v1h-1zM462 193h1v1h-1zM758 107h1v1h-1zM867 107h1v1h-1zM769 94h1v1h-1zM857 94h1v1h-1zM776 87h1v1h-1zM852 87h1v1h-1zM796 74h1v1h-1zM845 74h1v1h-1z" fill="#008040"/><path d="M157 239h1v1h-1zM270 239h1v1h-1zM317 239h1v1h-1zM320 239h2v1h-2zM747 83h1v1h-1zM834 83h1v1h-1zM47 158h1v1h-1zM57 158h1v1h-1zM100 158h2v1h-2zM136 158h1v1h-1zM513 158h1v1h-1zM588 158h2v1h-2zM593 158h5v1h-5zM628 158h1v1h-1zM688 158h1v1h-1zM860 158h1v1h-1zM907 158h1v1h-1zM143 181h1v1h-1zM435 181h2v1h-2zM440 181h10v1h-10zM452 181h2v1h-2zM641 181h1v1h-1zM681 181h1v1h-1zM873 181h2v1h-2zM877 181h1v1h-1zM755 67h1v1h-1zM811 67h1v1h-1zM165 265h1v1h-1zM259 265h1v1h-1zM737 101h1v1h-1zM844 101h1v1h-1zM529 125h1v1h-1zM562 125h1v1h-1zM710 125h1v1h-1zM851 125h1v1h-1zM937 125h1v1h-1zM759 60h1v1h-1zM796 60h3v1h-3zM802 60h6v1h-6zM115 146h1v1h-1zM132 146h1v1h-1zM519 146h1v1h-1zM577 146h1v1h-1zM694 146h1v1h-1zM855 146h1v1h-1zM921 146h1v1h-1zM150 210h1v1h-1zM337 210h1v1h-1zM364 210h1v1h-1zM404 210h1v1h-1zM653 210h1v1h-1zM664 210h1v1h-1zM159 245h1v1h-1zM266 245h1v1h-1zM143 182h1v1h-1zM434 182h1v1h-1zM450 182h2v1h-2zM642 182h1v1h-1zM681 182h1v1h-1zM875 182h2v1h-2zM144 189h1v1h-1zM346 189h1v1h-1zM355 189h1v1h-1zM429 189h1v1h-1zM645 189h1v1h-1zM678 189h1v1h-1zM184 328h1v1h-1zM218 328h1v1h-1zM181 322h1v1h-1zM221 322h1v1h-1zM40 172h1v1h-1zM72 172h1v1h-1zM80 172h2v1h-2zM140 172h1v1h-1zM468 172h1v1h-1zM636 172h1v1h-1zM684 172h1v1h-1zM864 172h1v1h-1zM885 172h1v1h-1zM146 195h1v1h-1zM344 195h1v1h-1zM358 195h1v1h-1zM420 195h2v1h-2zM647 195h1v1h-1zM675 195h1v1h-1zM44 163h1v1h-1zM64 163h2v1h-2zM88 163h1v1h-1zM138 163h1v1h-1zM474 163h2v1h-2zM482 163h2v1h-2zM510 163h1v1h-1zM630 163h1v1h-1zM686 163h1v1h-1zM861 163h1v1h-1zM896 163h2v1h-2zM900 163h2v1h-2zM903 163h1v1h-1zM43 165h1v1h-1zM68 165h1v1h-1zM86 165h1v1h-1zM138 165h1v1h-1zM472 165h1v1h-1zM485 165h1v1h-1zM509 165h1v1h-1zM631 165h1v1h-1zM686 165h1v1h-1zM862 165h1v1h-1zM894 165h1v1h-1zM50 154h1v1h-1zM52 154h2v1h-2zM104 154h1v1h-1zM135 154h1v1h-1zM515 154h1v1h-1zM584 154h1v1h-1zM602 154h1v1h-1zM625 154h1v1h-1zM690 154h1v1h-1zM858 154h1v1h-1zM911 154h1v1h-1zM187 338h1v1h-1zM213 338h1v1h-1zM192 351h1v1h-1zM206 351h1v1h-1zM532 122h1v1h-1zM561 122h1v1h-1zM712 122h1v1h-1zM850 122h1v1h-1zM939 122h1v1h-1zM149 206h1v1h-1zM339 206h1v1h-1zM362 206h1v1h-1zM409 206h1v1h-1zM651 206h1v1h-1zM669 206h1v1h-1zM188 339h1v1h-1zM213 339h1v1h-1zM151 216h1v1h-1zM285 216h1v1h-1zM295 216h3v1h-3zM300 216h2v1h-2zM303 216h1v1h-1zM334 216h1v1h-1zM368 216h1v1h-1zM398 216h1v1h-1zM45 161h1v1h-1zM62 161h1v1h-1zM91 161h3v1h-3zM137 161h1v1h-1zM512 161h1v1h-1zM629 161h1v1h-1zM687 161h1v1h-1zM861 161h1v1h-1zM904 161h1v1h-1zM536 118h1v1h-1zM558 118h1v1h-1zM720 118h2v1h-2zM849 118h1v1h-1zM943 118h1v1h-1zM144 188h1v1h-1zM347 188h2v1h-2zM355 188h1v1h-1zM430 188h1v1h-1zM645 188h1v1h-1zM678 188h1v1h-1zM116 145h1v1h-1zM126 145h6v1h-6zM519 145h1v1h-1zM577 145h1v1h-1zM694 145h1v1h-1zM855 145h1v1h-1zM922 145h2v1h-2zM174 296h1v1h-1zM245 296h1v1h-1zM48 156h1v1h-1zM55 156h1v1h-1zM103 156h1v1h-1zM136 156h1v1h-1zM514 156h1v1h-1zM586 156h1v1h-1zM600 156h1v1h-1zM627 156h1v1h-1zM689 156h1v1h-1zM859 156h1v1h-1zM909 156h1v1h-1zM163 259h1v1h-1zM261 259h1v1h-1zM41 169h1v1h-1zM71 169h1v1h-1zM84 169h1v1h-1zM139 169h1v1h-1zM470 169h1v1h-1zM489 169h5v1h-5zM634 169h1v1h-1zM685 169h1v1h-1zM863 169h1v1h-1zM889 169h4v1h-4zM158 240h1v1h-1zM269 240h1v1h-1zM318 240h2v1h-2zM141 176h1v1h-1zM458 176h2v1h-2zM638 176h1v1h-1zM682 176h1v1h-1zM867 176h1v1h-1zM883 176h1v1h-1zM745 89h1v1h-1zM837 89h1v1h-1zM51 153h1v1h-1zM104 153h1v1h-1zM135 153h1v1h-1zM516 153h1v1h-1zM583 153h1v1h-1zM603 153h1v1h-1zM625 153h1v1h-1zM690 153h1v1h-1zM857 153h1v1h-1zM912 153h2v1h-2zM540 114h2v1h-2zM552 114h3v1h-3zM728 114h1v1h-1zM848 114h1v1h-1zM945 114h1v1h-1zM955 114h2v1h-2zM166 269h1v1h-1zM257 269h1v1h-1zM766 53h1v1h-1zM784 53h1v1h-1zM731 109h1v1h-1zM847 109h1v1h-1zM142 177h1v1h-1zM457 177h1v1h-1zM639 177h1v1h-1zM682 177h1v1h-1zM868 177h1v1h-1zM881 177h2v1h-2zM167 270h1v1h-1zM257 270h1v1h-1zM160 247h1v1h-1zM265 247h1v1h-1zM156 234h1v1h-1zM273 234h1v1h-1zM314 234h1v1h-1zM324 234h1v1h-1zM380 234h1v1h-1zM386 234h1v1h-1zM150 212h1v1h-1zM289 212h1v1h-1zM336 212h1v1h-1zM365 212h1v1h-1zM402 212h1v1h-1zM655 212h1v1h-1zM662 212h1v1h-1zM151 214h1v1h-1zM286 214h1v1h-1zM292 214h1v1h-1zM335 214h1v1h-1zM367 214h1v1h-1zM400 214h1v1h-1zM656 214h1v1h-1zM658 214h2v1h-2zM193 354h1v1h-1zM205 354h1v1h-1zM158 242h1v1h-1zM268 242h1v1h-1zM150 209h1v1h-1zM338 209h1v1h-1zM364 209h1v1h-1zM405 209h2v1h-2zM653 209h1v1h-1zM665 209h2v1h-2zM113 148h1v1h-1zM133 148h1v1h-1zM518 148h1v1h-1zM579 148h1v1h-1zM609 148h1v1h-1zM612 148h3v1h-3zM618 148h2v1h-2zM693 148h1v1h-1zM856 148h1v1h-1zM918 148h1v1h-1zM109 150h2v1h-2zM134 150h1v1h-1zM517 150h1v1h-1zM580 150h1v1h-1zM608 150h1v1h-1zM621 150h2v1h-2zM692 150h1v1h-1zM856 150h1v1h-1zM917 150h1v1h-1zM530 124h1v1h-1zM562 124h1v1h-1zM710 124h1v1h-1zM850 124h1v1h-1zM938 124h1v1h-1zM42 166h1v1h-1zM69 166h1v1h-1zM86 166h1v1h-1zM139 166h1v1h-1zM472 166h1v1h-1zM486 166h1v1h-1zM507 166h2v1h-2zM632 166h1v1h-1zM685 166h1v1h-1zM862 166h1v1h-1zM894 166h1v1h-1zM147 198h1v1h-1zM343 198h1v1h-1zM359 198h1v1h-1zM417 198h1v1h-1zM648 198h1v1h-1zM673 198h1v1h-1zM142 178h1v1h-1zM456 178h1v1h-1zM639 178h1v1h-1zM682 178h1v1h-1zM869 178h1v1h-1zM880 178h1v1h-1zM760 59h2v1h-2zM790 59h6v1h-6zM799 59h3v1h-3zM526 130h1v1h-1zM566 130h1v1h-1zM704 130h1v1h-1zM852 130h1v1h-1zM933 130h1v1h-1zM145 190h1v1h-1zM346 190h1v1h-1zM356 190h1v1h-1zM428 190h1v1h-1zM645 190h1v1h-1zM677 190h1v1h-1zM142 180h1v1h-1zM437 180h3v1h-3zM454 180h1v1h-1zM641 180h1v1h-1zM681 180h1v1h-1zM871 180h2v1h-2zM878 180h1v1h-1zM118 143h5v1h-5zM520 143h1v1h-1zM576 143h1v1h-1zM695 143h1v1h-1zM855 143h1v1h-1zM925 143h1v1h-1zM753 70h1v1h-1zM813 70h1v1h-1zM823 70h2v1h-2zM827 70h2v1h-2zM179 315h1v1h-1zM226 315h4v1h-4zM179 314h1v1h-1zM230 314h2v1h-2zM151 215h1v1h-1zM285 215h1v1h-1zM293 215h2v1h-2zM302 215h1v1h-1zM335 215h1v1h-1zM367 215h1v1h-1zM399 215h1v1h-1zM657 215h1v1h-1zM44 162h1v1h-1zM63 162h1v1h-1zM89 162h2v1h-2zM137 162h1v1h-1zM476 162h6v1h-6zM511 162h1v1h-1zM630 162h1v1h-1zM687 162h1v1h-1zM861 162h1v1h-1zM898 162h2v1h-2zM904 162h1v1h-1zM537 117h1v1h-1zM558 117h1v1h-1zM722 117h2v1h-2zM849 117h1v1h-1zM944 117h1v1h-1zM959 117h1v1h-1zM522 137h1v1h-1zM571 137h1v1h-1zM699 137h1v1h-1zM853 137h1v1h-1zM929 137h1v1h-1zM771 49h1v1h-1zM777 49h3v1h-3zM744 91h1v1h-1zM838 91h1v1h-1zM182 324h1v1h-1zM220 324h1v1h-1zM46 159h1v1h-1zM58 159h2v1h-2zM96 159h4v1h-4zM136 159h1v1h-1zM513 159h1v1h-1zM590 159h3v1h-3zM628 159h1v1h-1zM688 159h1v1h-1zM860 159h1v1h-1zM906 159h1v1h-1zM770 50h1v1h-1zM780 50h2v1h-2zM183 325h1v1h-1zM219 325h1v1h-1zM149 205h1v1h-1zM340 205h1v1h-1zM362 205h1v1h-1zM410 205h1v1h-1zM650 205h1v1h-1zM670 205h1v1h-1zM752 73h1v1h-1zM831 73h1v1h-1zM767 52h2v1h-2zM783 52h1v1h-1zM105 152h2v1h-2zM135 152h1v1h-1zM516 152h1v1h-1zM582 152h1v1h-1zM604 152h2v1h-2zM624 152h1v1h-1zM691 152h1v1h-1zM857 152h1v1h-1zM914 152h2v1h-2zM172 287h1v1h-1zM249 287h1v1h-1zM525 132h1v1h-1zM568 132h1v1h-1zM703 132h1v1h-1zM852 132h1v1h-1zM932 132h1v1h-1zM111 149h2v1h-2zM133 149h1v1h-1zM518 149h1v1h-1zM580 149h1v1h-1zM609 149h1v1h-1zM615 149h3v1h-3zM620 149h1v1h-1zM692 149h1v1h-1zM856 149h1v1h-1zM917 149h1v1h-1zM177 308h1v1h-1zM236 308h2v1h-2zM147 201h1v1h-1zM341 201h1v1h-1zM361 201h1v1h-1zM414 201h1v1h-1zM649 201h1v1h-1zM672 201h1v1h-1zM175 298h1v1h-1zM244 298h1v1h-1zM764 55h1v1h-1zM786 55h1v1h-1zM143 184h1v1h-1zM433 184h1v1h-1zM643 184h1v1h-1zM680 184h1v1h-1zM195 357h2v1h-2zM202 357h2v1h-2zM747 84h1v1h-1zM835 84h1v1h-1zM147 199h1v1h-1zM342 199h1v1h-1zM360 199h1v1h-1zM416 199h1v1h-1zM649 199h1v1h-1zM673 199h1v1h-1zM152 218h1v1h-1zM283 218h1v1h-1zM305 218h1v1h-1zM333 218h1v1h-1zM370 218h1v1h-1zM396 218h1v1h-1zM145 192h1v1h-1zM345 192h1v1h-1zM357 192h1v1h-1zM426 192h1v1h-1zM646 192h1v1h-1zM676 192h1v1h-1zM162 256h1v1h-1zM262 256h1v1h-1zM189 342h1v1h-1zM212 342h1v1h-1zM43 164h1v1h-1zM66 164h2v1h-2zM87 164h1v1h-1zM138 164h1v1h-1zM473 164h1v1h-1zM484 164h1v1h-1zM510 164h1v1h-1zM631 164h1v1h-1zM686 164h1v1h-1zM862 164h1v1h-1zM895 164h1v1h-1zM902 164h1v1h-1zM521 139h1v1h-1zM572 139h1v1h-1zM698 139h1v1h-1zM854 139h1v1h-1zM928 139h1v1h-1zM734 106h1v1h-1zM846 106h1v1h-1zM527 128h1v1h-1zM564 128h1v1h-1zM706 128h2v1h-2zM851 128h1v1h-1zM935 128h1v1h-1zM39 174h1v1h-1zM73 174h5v1h-5zM141 174h1v1h-1zM466 174h2v1h-2zM637 174h1v1h-1zM683 174h1v1h-1zM864 174h1v1h-1zM884 174h1v1h-1zM147 200h1v1h-1zM342 200h1v1h-1zM360 200h1v1h-1zM415 200h1v1h-1zM649 200h1v1h-1zM673 200h1v1h-1zM41 170h1v1h-1zM71 170h1v1h-1zM84 170h1v1h-1zM140 170h1v1h-1zM469 170h1v1h-1zM634 170h1v1h-1zM684 170h1v1h-1zM863 170h1v1h-1zM887 170h2v1h-2zM114 147h1v1h-1zM132 147h1v1h-1zM518 147h1v1h-1zM578 147h1v1h-1zM610 147h2v1h-2zM693 147h1v1h-1zM856 147h1v1h-1zM919 147h2v1h-2zM155 230h1v1h-1zM275 230h1v1h-1zM311 230h1v1h-1zM326 230h1v1h-1zM377 230h1v1h-1zM389 230h1v1h-1zM751 75h1v1h-1zM832 75h1v1h-1zM155 232h1v1h-1zM274 232h1v1h-1zM313 232h1v1h-1zM325 232h1v1h-1zM378 232h1v1h-1zM387 232h1v1h-1zM155 231h1v1h-1zM275 231h1v1h-1zM312 231h1v1h-1zM325 231h1v1h-1zM377 231h1v1h-1zM388 231h1v1h-1zM153 223h1v1h-1zM279 223h1v1h-1zM307 223h1v1h-1zM329 223h1v1h-1zM373 223h1v1h-1zM393 223h1v1h-1zM531 123h1v1h-1zM561 123h1v1h-1zM711 123h1v1h-1zM850 123h1v1h-1zM939 123h1v1h-1zM144 186h1v1h-1zM352 186h2v1h-2zM431 186h1v1h-1zM644 186h1v1h-1zM679 186h1v1h-1zM165 264h1v1h-1zM259 264h1v1h-1zM157 238h1v1h-1zM271 238h1v1h-1zM316 238h1v1h-1zM322 238h1v1h-1zM743 92h1v1h-1zM838 92h1v1h-1zM178 311h1v1h-1zM234 311h1v1h-1zM146 196h1v1h-1zM343 196h1v1h-1zM359 196h1v1h-1zM419 196h1v1h-1zM648 196h1v1h-1zM674 196h1v1h-1zM49 155h1v1h-1zM54 155h1v1h-1zM103 155h1v1h-1zM135 155h1v1h-1zM515 155h1v1h-1zM585 155h1v1h-1zM601 155h1v1h-1zM626 155h1v1h-1zM689 155h1v1h-1zM858 155h1v1h-1zM910 155h1v1h-1zM190 344h1v1h-1zM211 344h1v1h-1zM184 327h1v1h-1zM218 327h1v1h-1zM181 321h1v1h-1zM222 321h1v1h-1zM149 207h1v1h-1zM339 207h1v1h-1zM363 207h1v1h-1zM408 207h1v1h-1zM651 207h1v1h-1zM668 207h1v1h-1zM772 48h5v1h-5zM149 208h1v1h-1zM338 208h1v1h-1zM363 208h1v1h-1zM407 208h1v1h-1zM652 208h1v1h-1zM667 208h1v1h-1zM40 171h1v1h-1zM72 171h1v1h-1zM82 171h2v1h-2zM140 171h1v1h-1zM469 171h1v1h-1zM635 171h1v1h-1zM684 171h1v1h-1zM863 171h1v1h-1zM886 171h1v1h-1zM171 285h1v1h-1zM250 285h1v1h-1zM750 77h1v1h-1zM833 77h1v1h-1zM156 233h1v1h-1zM274 233h1v1h-1zM313 233h1v1h-1zM324 233h1v1h-1zM379 233h1v1h-1zM387 233h1v1h-1zM174 295h1v1h-1zM246 295h1v1h-1zM148 203h1v1h-1zM340 203h1v1h-1zM361 203h1v1h-1zM412 203h1v1h-1zM650 203h1v1h-1zM671 203h1v1h-1zM152 217h1v1h-1zM284 217h1v1h-1zM298 217h2v1h-2zM304 217h1v1h-1zM333 217h1v1h-1zM369 217h1v1h-1zM397 217h1v1h-1zM163 258h1v1h-1zM261 258h1v1h-1zM542 113h10v1h-10zM728 113h1v1h-1zM848 113h1v1h-1zM946 113h1v1h-1zM948 113h7v1h-7zM151 213h1v1h-1zM287 213h2v1h-2zM290 213h2v1h-2zM336 213h1v1h-1zM366 213h1v1h-1zM401 213h1v1h-1zM656 213h1v1h-1zM660 213h2v1h-2zM141 175h1v1h-1zM460 175h6v1h-6zM637 175h1v1h-1zM683 175h1v1h-1zM865 175h2v1h-2zM884 175h1v1h-1zM762 58h1v1h-1zM788 58h2v1h-2zM526 129h1v1h-1zM565 129h1v1h-1zM705 129h1v1h-1zM852 129h1v1h-1zM934 129h1v1h-1zM152 219h1v1h-1zM281 219h2v1h-2zM305 219h1v1h-1zM332 219h1v1h-1zM370 219h1v1h-1zM396 219h1v1h-1zM153 221h1v1h-1zM280 221h1v1h-1zM306 221h1v1h-1zM330 221h1v1h-1zM371 221h1v1h-1zM394 221h1v1h-1zM190 346h1v1h-1zM210 346h1v1h-1zM524 133h1v1h-1zM569 133h1v1h-1zM702 133h1v1h-1zM853 133h1v1h-1zM932 133h1v1h-1zM193 353h1v1h-1zM205 353h1v1h-1zM107 151h2v1h-2zM134 151h1v1h-1zM517 151h1v1h-1zM581 151h1v1h-1zM606 151h2v1h-2zM623 151h1v1h-1zM691 151h1v1h-1zM857 151h1v1h-1zM916 151h1v1h-1zM188 341h1v1h-1zM212 341h1v1h-1zM179 312h1v1h-1zM233 312h1v1h-1zM749 78h1v1h-1zM833 78h1v1h-1zM194 356h1v1h-1zM204 356h1v1h-1zM47 157h1v1h-1zM56 157h1v1h-1zM102 157h1v1h-1zM136 157h1v1h-1zM514 157h1v1h-1zM587 157h1v1h-1zM598 157h2v1h-2zM627 157h1v1h-1zM688 157h1v1h-1zM859 157h1v1h-1zM908 157h1v1h-1zM157 237h1v1h-1zM271 237h1v1h-1zM315 237h1v1h-1zM322 237h1v1h-1zM745 88h1v1h-1zM836 88h1v1h-1zM146 194h1v1h-1zM344 194h1v1h-1zM358 194h1v1h-1zM422 194h2v1h-2zM647 194h1v1h-1zM675 194h1v1h-1zM148 204h1v1h-1zM340 204h1v1h-1zM362 204h1v1h-1zM411 204h1v1h-1zM650 204h1v1h-1zM671 204h1v1h-1zM729 111h1v1h-1zM847 111h1v1h-1zM142 179h1v1h-1zM455 179h1v1h-1zM640 179h1v1h-1zM682 179h1v1h-1zM870 179h1v1h-1zM879 179h1v1h-1zM523 135h1v1h-1zM570 135h1v1h-1zM700 135h1v1h-1zM853 135h1v1h-1zM931 135h1v1h-1zM533 121h1v1h-1zM560 121h1v1h-1zM713 121h2v1h-2zM850 121h1v1h-1zM940 121h1v1h-1zM153 224h1v1h-1zM278 224h1v1h-1zM308 224h1v1h-1zM329 224h1v1h-1zM373 224h1v1h-1zM392 224h1v1h-1zM185 330h1v1h-1zM217 330h1v1h-1zM42 167h1v1h-1zM69 167h1v1h-1zM85 167h1v1h-1zM139 167h1v1h-1zM471 167h1v1h-1zM487 167h1v1h-1zM498 167h9v1h-9zM632 167h1v1h-1zM685 167h1v1h-1zM862 167h1v1h-1zM893 167h1v1h-1zM754 69h1v1h-1zM812 69h1v1h-1zM825 69h2v1h-2zM753 71h1v1h-1zM814 71h2v1h-2zM818 71h5v1h-5zM829 71h1v1h-1zM162 255h1v1h-1zM262 255h1v1h-1zM733 107h1v1h-1zM846 107h1v1h-1zM735 105h1v1h-1zM846 105h1v1h-1zM528 127h1v1h-1zM564 127h1v1h-1zM708 127h1v1h-1zM851 127h1v1h-1zM936 127h1v1h-1zM153 222h1v1h-1zM279 222h1v1h-1zM307 222h1v1h-1zM330 222h1v1h-1zM372 222h1v1h-1zM393 222h1v1h-1zM155 229h1v1h-1zM276 229h1v1h-1zM311 229h1v1h-1zM326 229h1v1h-1zM376 229h1v1h-1zM389 229h1v1h-1zM177 307h1v1h-1zM238 307h2v1h-2zM172 289h1v1h-1zM249 289h1v1h-1zM736 102h1v1h-1zM845 102h1v1h-1zM175 300h1v1h-1zM242 300h1v1h-1zM746 86h1v1h-1zM835 86h1v1h-1zM524 134h1v1h-1zM570 134h1v1h-1zM701 134h1v1h-1zM853 134h1v1h-1zM931 134h1v1h-1zM148 202h1v1h-1zM341 202h1v1h-1zM361 202h1v1h-1zM413 202h1v1h-1zM650 202h1v1h-1zM672 202h1v1h-1zM756 64h1v1h-1zM809 64h1v1h-1zM178 310h1v1h-1zM234 310h1v1h-1zM529 126h1v1h-1zM563 126h1v1h-1zM709 126h1v1h-1zM851 126h1v1h-1zM936 126h1v1h-1zM752 72h1v1h-1zM816 72h2v1h-2zM830 72h1v1h-1zM189 343h1v1h-1zM211 343h1v1h-1zM769 51h1v1h-1zM782 51h1v1h-1zM168 273h1v1h-1zM255 273h1v1h-1zM732 108h1v1h-1zM846 108h1v1h-1zM192 350h1v1h-1zM207 350h1v1h-1zM171 284h1v1h-1zM250 284h1v1h-1zM146 197h1v1h-1zM343 197h1v1h-1zM359 197h1v1h-1zM418 197h1v1h-1zM648 197h1v1h-1zM674 197h1v1h-1zM117 144h1v1h-1zM123 144h3v1h-3zM520 144h1v1h-1zM576 144h1v1h-1zM695 144h1v1h-1zM855 144h1v1h-1zM924 144h1v1h-1zM152 220h1v1h-1zM280 220h1v1h-1zM306 220h1v1h-1zM331 220h1v1h-1zM371 220h1v1h-1zM395 220h1v1h-1zM45 160h1v1h-1zM60 160h2v1h-2zM94 160h2v1h-2zM137 160h1v1h-1zM512 160h1v1h-1zM629 160h1v1h-1zM687 160h1v1h-1zM861 160h1v1h-1zM905 160h1v1h-1zM199 359h2v1h-2zM173 292h1v1h-1zM247 292h1v1h-1zM165 266h1v1h-1zM259 266h1v1h-1zM190 345h1v1h-1zM210 345h1v1h-1zM181 320h1v1h-1zM223 320h1v1h-1zM193 352h1v1h-1zM206 352h1v1h-1zM185 329h1v1h-1zM217 329h1v1h-1zM188 340h1v1h-1zM212 340h1v1h-1zM194 355h1v1h-1zM204 355h1v1h-1zM174 297h1v1h-1zM244 297h1v1h-1zM160 249h1v1h-1zM264 249h1v1h-1zM742 94h1v1h-1zM840 94h1v1h-1zM163 260h1v1h-1zM260 260h1v1h-1zM758 61h1v1h-1zM808 61h1v1h-1zM174 294h1v1h-1zM246 294h1v1h-1zM166 268h1v1h-1zM258 268h1v1h-1zM730 110h1v1h-1zM847 110h1v1h-1zM167 271h1v1h-1zM256 271h1v1h-1zM742 93h1v1h-1zM839 93h1v1h-1zM175 301h1v1h-1zM242 301h1v1h-1zM168 275h1v1h-1zM254 275h1v1h-1zM539 115h1v1h-1zM555 115h2v1h-2zM726 115h2v1h-2zM848 115h1v1h-1zM945 115h1v1h-1zM957 115h1v1h-1zM159 244h1v1h-1zM266 244h1v1h-1zM39 173h1v1h-1zM73 173h1v1h-1zM78 173h2v1h-2zM141 173h1v1h-1zM468 173h1v1h-1zM636 173h1v1h-1zM683 173h1v1h-1zM864 173h1v1h-1zM885 173h1v1h-1zM187 336h1v1h-1zM214 336h1v1h-1zM180 316h1v1h-1zM225 316h1v1h-1zM183 326h1v1h-1zM219 326h1v1h-1zM521 141h1v1h-1zM574 141h1v1h-1zM697 141h1v1h-1zM854 141h1v1h-1zM926 141h1v1h-1zM741 95h1v1h-1zM841 95h1v1h-1zM176 303h1v1h-1zM241 303h1v1h-1zM169 277h1v1h-1zM253 277h1v1h-1zM172 288h1v1h-1zM249 288h1v1h-1zM145 191h1v1h-1zM345 191h1v1h-1zM356 191h1v1h-1zM427 191h1v1h-1zM646 191h1v1h-1zM677 191h1v1h-1zM764 56h1v1h-1zM786 56h1v1h-1zM144 187h1v1h-1zM349 187h3v1h-3zM354 187h1v1h-1zM431 187h1v1h-1zM644 187h1v1h-1zM679 187h1v1h-1zM757 63h1v1h-1zM809 63h1v1h-1zM197 358h2v1h-2zM201 358h1v1h-1zM162 257h1v1h-1zM261 257h1v1h-1zM763 57h1v1h-1zM787 57h1v1h-1zM156 235h1v1h-1zM272 235h1v1h-1zM314 235h1v1h-1zM323 235h1v1h-1zM381 235h2v1h-2zM386 235h1v1h-1zM145 193h1v1h-1zM345 193h1v1h-1zM357 193h1v1h-1zM424 193h2v1h-2zM647 193h1v1h-1zM676 193h1v1h-1zM171 286h1v1h-1zM250 286h1v1h-1zM160 248h1v1h-1zM264 248h1v1h-1zM534 120h1v1h-1zM560 120h1v1h-1zM715 120h2v1h-2zM849 120h1v1h-1zM941 120h1v1h-1zM746 85h1v1h-1zM835 85h1v1h-1zM166 267h1v1h-1zM258 267h1v1h-1zM765 54h1v1h-1zM785 54h1v1h-1zM168 274h1v1h-1zM254 274h1v1h-1zM154 226h1v1h-1zM277 226h1v1h-1zM309 226h1v1h-1zM328 226h1v1h-1zM374 226h1v1h-1zM391 226h1v1h-1zM161 251h1v1h-1zM263 251h1v1h-1zM191 347h1v1h-1zM209 347h1v1h-1zM749 79h1v1h-1zM833 79h1v1h-1zM522 138h1v1h-1zM572 138h1v1h-1zM698 138h1v1h-1zM854 138h1v1h-1zM929 138h1v1h-1zM749 80h1v1h-1zM834 80h1v1h-1zM143 185h1v1h-1zM432 185h1v1h-1zM643 185h1v1h-1zM680 185h1v1h-1zM744 90h1v1h-1zM837 90h1v1h-1zM758 62h1v1h-1zM808 62h1v1h-1zM729 112h1v1h-1zM847 112h1v1h-1zM946 112h2v1h-2zM176 302h1v1h-1zM241 302h1v1h-1zM169 276h1v1h-1zM253 276h1v1h-1zM150 211h1v1h-1zM337 211h1v1h-1zM365 211h1v1h-1zM403 211h1v1h-1zM654 211h1v1h-1zM663 211h1v1h-1zM523 136h1v1h-1zM571 136h1v1h-1zM699 136h1v1h-1zM853 136h1v1h-1zM930 136h1v1h-1zM154 225h1v1h-1zM278 225h1v1h-1zM308 225h1v1h-1zM328 225h1v1h-1zM374 225h1v1h-1zM392 225h1v1h-1zM159 246h1v1h-1zM265 246h1v1h-1zM41 168h1v1h-1zM70 168h1v1h-1zM85 168h1v1h-1zM139 168h1v1h-1zM471 168h1v1h-1zM488 168h1v1h-1zM494 168h4v1h-4zM633 168h1v1h-1zM685 168h1v1h-1zM863 168h1v1h-1zM893 168h1v1h-1zM180 318h1v1h-1zM224 318h1v1h-1zM538 116h1v1h-1zM557 116h1v1h-1zM724 116h2v1h-2zM848 116h1v1h-1zM944 116h1v1h-1zM958 116h1v1h-1zM521 140h1v1h-1zM573 140h1v1h-1zM697 140h1v1h-1zM854 140h1v1h-1zM927 140h1v1h-1zM154 227h1v1h-1zM277 227h1v1h-1zM309 227h1v1h-1zM327 227h1v1h-1zM375 227h1v1h-1zM390 227h1v1h-1zM736 103h1v1h-1zM845 103h1v1h-1zM750 76h1v1h-1zM832 76h1v1h-1zM738 99h1v1h-1zM843 99h1v1h-1zM535 119h1v1h-1zM559 119h1v1h-1zM717 119h3v1h-3zM849 119h1v1h-1zM942 119h1v1h-1zM520 142h1v1h-1zM575 142h1v1h-1zM696 142h1v1h-1zM854 142h1v1h-1zM926 142h1v1h-1zM748 81h1v1h-1zM834 81h1v1h-1zM173 293h1v1h-1zM247 293h1v1h-1zM154 228h1v1h-1zM276 228h1v1h-1zM310 228h1v1h-1zM327 228h1v1h-1zM376 228h1v1h-1zM390 228h1v1h-1zM158 243h1v1h-1zM267 243h1v1h-1zM525 131h1v1h-1zM567 131h1v1h-1zM704 131h1v1h-1zM852 131h1v1h-1zM933 131h1v1h-1zM160 250h1v1h-1zM263 250h1v1h-1zM746 87h1v1h-1zM836 87h1v1h-1zM164 261h1v1h-1zM260 261h1v1h-1zM167 272h1v1h-1zM255 272h1v1h-1zM754 68h1v1h-1zM812 68h1v1h-1zM161 253h1v1h-1zM263 253h1v1h-1zM191 349h1v1h-1zM207 349h1v1h-1zM187 337h1v1h-1zM214 337h1v1h-1zM177 306h1v1h-1zM239 306h1v1h-1zM180 317h1v1h-1zM225 317h1v1h-1zM170 280h1v1h-1zM251 280h1v1h-1zM173 290h1v1h-1zM248 290h1v1h-1zM756 65h1v1h-1zM810 65h1v1h-1zM739 98h1v1h-1zM843 98h1v1h-1zM157 236h1v1h-1zM272 236h1v1h-1zM315 236h1v1h-1zM323 236h1v1h-1zM383 236h3v1h-3zM143 183h1v1h-1zM434 183h1v1h-1zM642 183h1v1h-1zM680 183h1v1h-1zM176 304h1v1h-1zM240 304h1v1h-1zM161 252h1v1h-1zM263 252h1v1h-1zM191 348h1v1h-1zM208 348h1v1h-1zM177 305h1v1h-1zM240 305h1v1h-1zM164 263h1v1h-1zM260 263h1v1h-1zM170 279h1v1h-1zM252 279h1v1h-1zM161 254h1v1h-1zM262 254h1v1h-1zM180 319h1v1h-1zM224 319h1v1h-1zM187 335h1v1h-1zM215 335h1v1h-1zM182 323h1v1h-1zM221 323h1v1h-1zM748 82h1v1h-1zM834 82h1v1h-1zM185 331h1v1h-1zM216 331h1v1h-1zM186 332h1v1h-1zM216 332h1v1h-1zM178 309h1v1h-1zM235 309h1v1h-1zM164 262h1v1h-1zM260 262h1v1h-1zM739 97h1v1h-1zM842 97h1v1h-1zM186 334h1v1h-1zM215 334h1v1h-1zM170 281h1v1h-1zM251 281h1v1h-1zM738 100h1v1h-1zM844 100h1v1h-1zM173 291h1v1h-1zM248 291h1v1h-1zM755 66h1v1h-1zM811 66h1v1h-1zM169 278h1v1h-1zM252 278h1v1h-1zM158 241h1v1h-1zM269 241h1v1h-1zM740 96h1v1h-1zM842 96h1v1h-1zM179 313h1v1h-1zM232 313h1v1h-1zM735 104h1v1h-1zM845 104h1v1h-1zM751 74h1v1h-1zM831 74h1v1h-1zM170 282h1v1h-1zM251 282h1v1h-1zM186 333h1v1h-1zM216 333h1v1h-1zM175 299h1v1h-1zM243 299h1v1h-1zM171 283h1v1h-1zM250 283h1v1h-1z" fill="#4040ff"/><path d="M510 91h454v1h-454zM797 190h1v1h-1zM910 190h2v1h-2zM746 224h1v1h-1zM858 224h2v1h-2zM925 82h2v1h-2zM959 82h2v1h-2zM770 208h1v1h-1zM883 208h1v1h-1zM609 315h2v1h-2zM804 185h2v1h-2zM918 185h1v1h-1zM753 219h2v1h-2zM866 219h2v1h-2zM896 124h2v1h-2zM454 418h2v1h-2zM849 48h2v1h-2zM840 44h2v1h-2zM920 108h2v1h-2zM842 45h2v1h-2zM833 41h2v1h-2zM835 42h3v1h-3zM826 38h3v1h-3zM817 34h3v1h-3zM845 158h2v1h-2zM959 158h2v1h-2zM710 248h1v1h-1zM842 160h2v1h-2zM956 160h2v1h-2zM885 64h2v1h-2zM801 187h2v1h-2zM915 187h1v1h-1zM463 412h2v1h-2zM887 65h2v1h-2zM878 61h2v1h-2zM877 137h1v1h-1zM825 171h2v1h-2zM939 171h2v1h-2zM555 351h1v1h-1zM862 54h3v1h-3zM504 385h1v1h-1zM917 110h2v1h-2zM779 202h1v1h-1zM892 202h2v1h-2zM528 369h1v1h-1zM923 81h2v1h-2zM961 81h1v1h-1zM941 94h2v1h-2zM952 94h2v1h-2zM671 274h1v1h-1zM803 186h1v1h-1zM916 186h2v1h-2zM620 308h1v1h-1zM644 292h1v1h-1zM810 181h2v1h-2zM924 181h2v1h-2zM786 197h2v1h-2zM900 197h1v1h-1zM735 231h2v1h-2zM848 231h1v1h-1zM465 411h1v1h-1zM783 199h2v1h-2zM897 199h1v1h-1zM878 136h2v1h-2zM764 212h1v1h-1zM877 212h1v1h-1zM926 104h2v1h-2zM902 120h2v1h-2zM788 196h1v1h-1zM901 196h2v1h-2zM737 230h1v1h-1zM849 230h2v1h-2zM899 122h2v1h-2zM828 169h2v1h-2zM942 169h2v1h-2zM577 336h2v1h-2zM771 207h2v1h-2zM884 207h2v1h-2zM720 241h2v1h-2zM744 225h2v1h-2zM857 225h1v1h-1zM887 130h2v1h-2zM836 164h2v1h-2zM950 164h2v1h-2zM585 331h2v1h-2zM677 270h1v1h-1zM809 182h1v1h-1zM923 182h1v1h-1zM701 254h1v1h-1zM844 159h1v1h-1zM958 159h1v1h-1zM792 193h2v1h-2zM906 193h1v1h-1zM522 373h1v1h-1zM471 407h1v1h-1zM935 98h2v1h-2zM961 98h2v1h-2zM831 40h2v1h-2zM546 357h1v1h-1zM495 391h1v1h-1zM824 37h2v1h-2zM908 116h2v1h-2zM638 296h1v1h-1zM587 330h1v1h-1zM891 67h3v1h-3zM930 84h2v1h-2zM956 84h2v1h-2zM662 280h1v1h-1zM876 60h2v1h-2zM611 314h1v1h-1zM777 203h2v1h-2zM890 203h2v1h-2zM869 57h2v1h-2zM702 253h2v1h-2zM834 165h2v1h-2zM948 165h2v1h-2zM750 221h2v1h-2zM863 221h2v1h-2zM456 417h1v1h-1zM893 126h2v1h-2zM869 142h2v1h-2zM927 83h3v1h-3zM958 83h1v1h-1zM755 218h1v1h-1zM868 218h1v1h-1zM571 340h2v1h-2zM547 356h2v1h-2zM921 80h2v1h-2zM962 80h2v1h-2zM866 144h2v1h-2zM544 358h2v1h-2zM914 77h2v1h-2zM687 263h2v1h-2zM819 175h2v1h-2zM933 175h2v1h-2zM711 247h2v1h-2zM939 88h2v1h-2zM950 88h2v1h-2zM668 276h1v1h-1zM759 215h2v1h-2zM872 215h2v1h-2zM489 395h1v1h-1zM462 413h1v1h-1zM875 138h2v1h-2zM605 318h1v1h-1zM553 352h2v1h-2zM923 106h2v1h-2zM785 198h1v1h-1zM898 198h2v1h-2zM693 259h2v1h-2zM669 275h2v1h-2zM768 209h2v1h-2zM881 209h2v1h-2zM829 39h2v1h-2zM820 35h2v1h-2zM717 243h2v1h-2zM822 36h2v1h-2zM813 32h2v1h-2zM860 148h2v1h-2zM514 378h2v1h-2zM884 132h2v1h-2zM833 166h1v1h-1zM947 166h1v1h-1zM562 346h2v1h-2zM511 380h2v1h-2zM882 63h3v1h-3zM874 59h2v1h-2zM865 55h2v1h-2zM941 89h2v1h-2zM949 89h1v1h-1zM867 56h2v1h-2zM678 269h2v1h-2zM858 52h2v1h-2zM918 79h3v1h-3zM468 409h1v1h-1zM886 131h1v1h-1zM635 298h1v1h-1zM584 332h1v1h-1zM934 99h1v1h-1zM963 99h1v1h-1zM726 237h2v1h-2zM890 128h2v1h-2zM752 220h1v1h-1zM865 220h1v1h-1zM568 342h2v1h-2zM493 392h2v1h-2zM684 265h2v1h-2zM816 177h2v1h-2zM930 177h2v1h-2zM660 281h2v1h-2zM708 249h2v1h-2zM851 154h2v1h-2zM800 188h1v1h-1zM913 188h2v1h-2zM529 368h2v1h-2zM478 402h2v1h-2zM943 93h1v1h-1zM950 93h2v1h-2zM502 386h2v1h-2zM916 111h1v1h-1zM645 291h2v1h-2zM594 325h2v1h-2zM811 31h2v1h-2zM761 214h1v1h-1zM874 214h1v1h-1zM871 58h3v1h-3zM459 415h1v1h-1zM762 213h2v1h-2zM875 213h2v1h-2zM872 140h2v1h-2zM602 320h1v1h-1zM550 354h2v1h-2zM574 338h2v1h-2zM666 277h2v1h-2zM916 78h2v1h-2zM909 75h3v1h-3zM535 364h2v1h-2zM460 414h2v1h-2zM559 348h2v1h-2zM651 287h2v1h-2zM627 303h2v1h-2zM675 271h2v1h-2zM818 176h1v1h-1zM932 176h1v1h-1zM767 210h1v1h-1zM880 210h1v1h-1zM496 390h2v1h-2zM791 194h1v1h-1zM904 194h2v1h-2zM469 408h2v1h-2zM883 133h1v1h-1zM612 313h2v1h-2zM561 347h1v1h-1zM907 117h1v1h-1zM636 297h2v1h-2zM741 227h2v1h-2zM854 227h1v1h-1zM940 95h1v1h-1zM954 95h3v1h-3zM728 236h1v1h-1zM839 162h2v1h-2zM953 162h2v1h-2zM517 376h2v1h-2zM593 326h1v1h-1zM808 30h3v1h-3zM541 360h2v1h-2zM802 27h2v1h-2zM794 192h1v1h-1zM907 192h2v1h-2zM633 299h2v1h-2zM657 283h2v1h-2zM848 156h2v1h-2zM962 156h2v1h-2zM853 50h3v1h-3zM526 370h2v1h-2zM847 47h2v1h-2zM475 404h2v1h-2zM451 420h2v1h-2zM618 309h2v1h-2zM642 293h2v1h-2zM774 205h2v1h-2zM887 205h2v1h-2zM734 232h1v1h-1zM898 70h2v1h-2zM758 216h1v1h-1zM871 216h1v1h-1zM880 62h2v1h-2zM901 121h1v1h-1zM850 155h1v1h-1zM579 335h2v1h-2zM925 105h1v1h-1zM874 139h1v1h-1zM552 353h1v1h-1zM932 85h2v1h-2zM955 85h1v1h-1zM695 258h1v1h-1zM827 170h1v1h-1zM941 170h1v1h-1zM900 71h3v1h-3zM484 398h2v1h-2zM807 183h2v1h-2zM921 183h2v1h-2zM508 382h2v1h-2zM600 321h2v1h-2zM624 305h2v1h-2zM815 33h2v1h-2zM806 29h2v1h-2zM466 410h2v1h-2zM931 101h1v1h-1zM800 26h2v1h-2zM558 349h1v1h-1zM582 333h2v1h-2zM725 238h1v1h-1zM674 272h1v1h-1zM868 143h1v1h-1zM841 161h1v1h-1zM955 161h1v1h-1zM519 375h1v1h-1zM932 100h2v1h-2zM591 327h2v1h-2zM639 295h2v1h-2zM731 234h1v1h-1zM937 97h1v1h-1zM959 97h2v1h-2zM898 123h1v1h-1zM943 90h2v1h-2zM947 90h2v1h-2zM847 157h1v1h-1zM961 157h1v1h-1zM576 337h1v1h-1zM525 371h1v1h-1zM549 355h1v1h-1zM692 260h1v1h-1zM824 172h1v1h-1zM938 172h1v1h-1zM641 294h1v1h-1zM716 244h1v1h-1zM665 278h1v1h-1zM831 167h2v1h-2zM945 167h2v1h-2zM756 217h2v1h-2zM869 217h2v1h-2zM486 397h1v1h-1zM782 200h1v1h-1zM895 200h2v1h-2zM621 307h2v1h-2zM765 211h2v1h-2zM878 211h2v1h-2zM857 150h2v1h-2zM743 226h1v1h-1zM855 226h2v1h-2zM606 317h2v1h-2zM860 53h2v1h-2zM851 49h2v1h-2zM698 256h1v1h-1zM830 168h1v1h-1zM944 168h1v1h-1zM773 206h1v1h-1zM886 206h1v1h-1zM722 240h1v1h-1zM865 145h1v1h-1zM813 179h2v1h-2zM927 179h2v1h-2zM543 359h1v1h-1zM912 76h2v1h-2zM903 72h2v1h-2zM492 393h1v1h-1zM838 163h1v1h-1zM952 163h1v1h-1zM905 73h2v1h-2zM896 69h2v1h-2zM567 343h1v1h-1zM516 377h1v1h-1zM929 102h2v1h-2zM889 66h2v1h-2zM659 282h1v1h-1zM608 316h1v1h-1zM934 86h2v1h-2zM953 86h2v1h-2zM683 266h1v1h-1zM632 300h1v1h-1zM798 189h2v1h-2zM912 189h1v1h-1zM938 96h2v1h-2zM957 96h2v1h-2zM944 92h2v1h-2zM948 92h2v1h-2zM723 239h2v1h-2zM453 419h1v1h-1zM822 173h2v1h-2zM936 173h2v1h-2zM477 403h1v1h-1zM914 112h2v1h-2zM776 204h1v1h-1zM889 204h1v1h-1zM749 222h1v1h-1zM861 222h2v1h-2zM565 344h2v1h-2zM588 329h2v1h-2zM732 233h2v1h-2zM689 262h1v1h-1zM804 28h2v1h-2zM821 174h1v1h-1zM935 174h1v1h-1zM780 201h2v1h-2zM894 201h1v1h-1zM510 381h1v1h-1zM856 151h1v1h-1zM534 365h1v1h-1zM483 399h1v1h-1zM856 51h2v1h-2zM626 304h1v1h-1zM806 184h1v1h-1zM919 184h2v1h-2zM650 288h1v1h-1zM599 322h1v1h-1zM690 261h2v1h-2zM789 195h2v1h-2zM903 195h1v1h-1zM738 229h2v1h-2zM851 229h1v1h-1zM714 245h2v1h-2zM881 134h2v1h-2zM894 68h2v1h-2zM905 118h2v1h-2zM854 152h2v1h-2zM740 228h1v1h-1zM852 228h2v1h-2zM532 366h2v1h-2zM699 255h2v1h-2zM648 289h2v1h-2zM815 178h1v1h-1zM929 178h1v1h-1zM513 379h1v1h-1zM656 284h1v1h-1zM747 223h2v1h-2zM860 223h1v1h-1zM629 302h1v1h-1zM501 387h1v1h-1zM863 146h2v1h-2zM474 405h1v1h-1zM911 114h2v1h-2zM617 310h1v1h-1zM590 328h1v1h-1zM705 251h2v1h-2zM681 267h2v1h-2zM729 235h2v1h-2zM499 388h2v1h-2zM523 372h2v1h-2zM907 74h2v1h-2zM615 311h2v1h-2zM531 367h1v1h-1zM480 401h1v1h-1zM936 87h3v1h-3zM952 87h1v1h-1zM647 290h1v1h-1zM596 324h1v1h-1zM556 350h2v1h-2zM505 384h2v1h-2zM672 273h2v1h-2zM696 257h2v1h-2zM812 180h1v1h-1zM926 180h1v1h-1zM490 394h2v1h-2zM904 119h1v1h-1zM928 103h1v1h-1zM844 46h3v1h-3zM838 43h2v1h-2zM538 362h2v1h-2zM614 312h1v1h-1zM472 406h2v1h-2zM520 374h2v1h-2zM663 279h2v1h-2zM795 191h2v1h-2zM909 191h1v1h-1zM457 416h2v1h-2zM922 107h1v1h-1zM871 141h1v1h-1zM481 400h2v1h-2zM895 125h1v1h-1zM573 339h1v1h-1zM581 334h1v1h-1zM487 396h2v1h-2zM630 301h2v1h-2zM654 285h2v1h-2zM603 319h2v1h-2zM889 129h1v1h-1zM719 242h1v1h-1zM913 113h1v1h-1zM862 147h1v1h-1zM540 361h1v1h-1zM707 250h1v1h-1zM919 109h1v1h-1zM597 323h2v1h-2zM892 127h1v1h-1zM570 341h1v1h-1zM713 246h1v1h-1zM686 264h1v1h-1zM880 135h1v1h-1zM507 383h1v1h-1zM853 153h1v1h-1zM623 306h1v1h-1zM564 345h1v1h-1zM910 115h1v1h-1zM859 149h1v1h-1zM537 363h1v1h-1zM680 268h1v1h-1zM704 252h1v1h-1zM653 286h1v1h-1zM498 389h1v1h-1z" fill="#0000ff"/></g>
<g clip-path="url(#cr)"><line x1="10" y1="531.5" x2="964" y2="531.5" stroke="#000" stroke-dasharray="6 4"/><path d="M61 516h2v1h-2zM65 516h1v1h-1zM70 516h1v1h-1zM76 516h1v1h-1zM81 516h1v1h-1zM99 516h1v1h-1zM120 516h1v1h-1zM241 516h1v1h-1zM245 516h1v1h-1zM288 516h1v1h-1zM323 516h1v1h-1zM339 516h1v1h-1zM342 516h1v1h-1zM348 516h1v1h-1zM388 516h1v1h-1zM392 516h1v1h-1zM410 516h3v1h-3zM415 516h2v1h-2zM426 516h2v1h-2zM436 516h1v1h-1zM452 516h1v1h-1zM476 516h1v1h-1zM494 516h1v1h-1zM501 516h1v1h-1zM504 516h1v1h-1zM509 516h1v1h-1zM512 516h1v1h-1zM536 516h1v1h-1zM540 516h1v1h-1zM548 516h1v1h-1zM556 516h1v1h-1zM670 516h1v1h-1zM775 516h1v1h-1zM778 516h1v1h-1zM782 516h1v1h-1zM794 516h1v1h-1zM802 516h1v1h-1zM825 516h1v1h-1zM827 516h1v1h-1zM926 516h1v1h-1zM932 516h1v1h-1zM936 516h1v1h-1zM939 516h1v1h-1zM944 516h1v1h-1zM948 516h1v1h-1zM124 539h1v1h-1zM132 539h1v1h-1zM205 539h1v1h-1zM209 539h1v1h-1zM212 539h1v1h-1zM219 539h1v1h-1zM228 539h1v1h-1zM231 539h1v1h-1zM308 539h1v1h-1zM310 539h1v1h-1zM355 539h1v1h-1zM368 539h2v1h-2zM374 539h1v1h-1zM480 539h1v1h-1zM482 539h1v1h-1zM560 539h1v1h-1zM580 539h1v1h-1zM597 539h1v1h-1zM620 539h1v1h-1zM660 539h1v1h-1zM808 539h1v1h-1zM817 539h1v1h-1zM833 539h1v1h-1zM861 539h1v1h-1zM885 539h1v1h-1zM900 539h1v1h-1zM904 539h1v1h-1zM137 569h2v1h-2zM143 569h1v1h-1zM191 569h1v1h-1zM649 569h1v1h-1zM652 569h1v1h-1zM846 569h1v1h-1zM849 569h1v1h-1zM250 502h1v1h-1zM252 502h1v1h-1zM273 502h1v1h-1zM286 502h1v1h-1zM327 502h1v1h-1zM332 502h1v1h-1zM514 502h1v1h-1zM532 502h1v1h-1zM686 502h1v1h-1zM690 502h1v1h-1zM707 502h2v1h-2zM715 502h1v1h-1zM724 502h1v1h-1zM773 502h1v1h-1zM799 502h2v1h-2zM59 524h1v1h-1zM72 524h1v1h-1zM74 524h1v1h-1zM121 524h1v1h-1zM235 524h1v1h-1zM290 524h1v1h-1zM300 524h1v1h-1zM305 524h1v1h-1zM317 524h1v1h-1zM350 524h1v1h-1zM387 524h1v1h-1zM396 524h1v1h-1zM399 524h2v1h-2zM407 524h1v1h-1zM437 524h1v1h-1zM445 524h1v1h-1zM449 524h1v1h-1zM478 524h1v1h-1zM490 524h1v1h-1zM542 524h1v1h-1zM545 524h1v1h-1zM557 524h1v1h-1zM664 524h1v1h-1zM668 524h1v1h-1zM783 524h1v1h-1zM791 524h1v1h-1zM805 524h1v1h-1zM822 524h1v1h-1zM830 524h1v1h-1zM917 524h1v1h-1zM949 524h1v1h-1zM61 514h1v1h-1zM65 514h1v1h-1zM70 514h1v1h-1zM76 514h1v1h-1zM80 514h1v1h-1zM100 514h1v1h-1zM119 514h1v1h-1zM241 514h1v1h-1zM244 514h1v1h-1zM246 514h1v1h-1zM269 514h2v1h-2zM288 514h1v1h-1zM323 514h1v1h-1zM339 514h1v1h-1zM343 514h1v1h-1zM347 514h1v1h-1zM389 514h1v1h-1zM392 514h1v1h-1zM416 514h1v1h-1zM425 514h1v1h-1zM428 514h1v1h-1zM435 514h1v1h-1zM452 514h1v1h-1zM475 514h1v1h-1zM495 514h1v1h-1zM501 514h1v1h-1zM505 514h2v1h-2zM512 514h1v1h-1zM535 514h1v1h-1zM549 514h1v1h-1zM555 514h1v1h-1zM670 514h1v1h-1zM718 514h3v1h-3zM775 514h1v1h-1zM780 514h2v1h-2zM795 514h1v1h-1zM802 514h1v1h-1zM825 514h1v1h-1zM827 514h1v1h-1zM927 514h4v1h-4zM937 514h1v1h-1zM944 514h1v1h-1zM947 514h1v1h-1zM60 517h1v1h-1zM63 517h1v1h-1zM65 517h1v1h-1zM71 517h1v1h-1zM76 517h1v1h-1zM81 517h1v1h-1zM99 517h1v1h-1zM120 517h1v1h-1zM240 517h1v1h-1zM288 517h1v1h-1zM302 517h1v1h-1zM322 517h1v1h-1zM339 517h1v1h-1zM342 517h1v1h-1zM348 517h1v1h-1zM388 517h1v1h-1zM393 517h1v1h-1zM409 517h1v1h-1zM413 517h2v1h-2zM426 517h1v1h-1zM436 517h1v1h-1zM451 517h1v1h-1zM476 517h1v1h-1zM493 517h1v1h-1zM501 517h1v1h-1zM504 517h1v1h-1zM509 517h1v1h-1zM512 517h1v1h-1zM537 517h4v1h-4zM548 517h1v1h-1zM556 517h1v1h-1zM669 517h1v1h-1zM775 517h1v1h-1zM777 517h1v1h-1zM782 517h1v1h-1zM794 517h1v1h-1zM803 517h1v1h-1zM824 517h1v1h-1zM828 517h1v1h-1zM926 517h1v1h-1zM933 517h1v1h-1zM935 517h1v1h-1zM939 517h1v1h-1zM943 517h1v1h-1zM948 517h1v1h-1zM123 536h1v1h-1zM126 536h1v1h-1zM132 536h1v1h-1zM206 536h1v1h-1zM208 536h1v1h-1zM212 536h1v1h-1zM217 536h1v1h-1zM221 536h1v1h-1zM227 536h1v1h-1zM232 536h1v1h-1zM307 536h1v1h-1zM314 536h2v1h-2zM354 536h1v1h-1zM375 536h1v1h-1zM479 536h1v1h-1zM486 536h1v1h-1zM560 536h1v1h-1zM580 536h1v1h-1zM588 536h2v1h-2zM596 536h1v1h-1zM598 536h1v1h-1zM602 536h1v1h-1zM604 536h1v1h-1zM620 536h1v1h-1zM661 536h1v1h-1zM787 536h2v1h-2zM808 536h1v1h-1zM818 536h1v1h-1zM833 536h1v1h-1zM886 536h1v1h-1zM899 536h1v1h-1zM904 536h1v1h-1zM959 536h1v1h-1zM250 503h1v1h-1zM253 503h1v1h-1zM272 503h1v1h-1zM287 503h1v1h-1zM327 503h1v1h-1zM332 503h1v1h-1zM419 503h2v1h-2zM514 503h1v1h-1zM532 503h1v1h-1zM685 503h1v1h-1zM687 503h3v1h-3zM708 503h1v1h-1zM715 503h1v1h-1zM724 503h1v1h-1zM774 503h1v1h-1zM798 503h1v1h-1zM801 503h1v1h-1zM135 554h1v1h-1zM196 554h1v1h-1zM572 554h3v1h-3zM623 554h1v1h-1zM637 554h1v1h-1zM639 554h1v1h-1zM658 554h1v1h-1zM834 554h1v1h-1zM838 554h2v1h-2zM856 554h1v1h-1zM864 554h1v1h-1zM56 532h1v1h-1zM123 532h1v1h-1zM129 532h1v1h-1zM131 532h1v1h-1zM207 532h1v1h-1zM213 532h1v1h-1zM225 532h2v1h-2zM233 532h1v1h-1zM292 532h1v1h-1zM294 532h1v1h-1zM306 532h1v1h-1zM316 532h1v1h-1zM353 532h1v1h-1zM378 532h1v1h-1zM384 532h2v1h-2zM438 532h1v1h-1zM443 532h1v1h-1zM479 532h1v1h-1zM487 532h1v1h-1zM543 532h1v1h-1zM559 532h1v1h-1zM581 532h1v1h-1zM586 532h1v1h-1zM594 532h1v1h-1zM599 532h1v1h-1zM601 532h1v1h-1zM606 532h1v1h-1zM612 532h1v1h-1zM615 532h1v1h-1zM619 532h1v1h-1zM662 532h1v1h-1zM785 532h1v1h-1zM789 532h1v1h-1zM807 532h1v1h-1zM819 532h1v1h-1zM832 532h1v1h-1zM888 532h1v1h-1zM896 532h1v1h-1zM905 532h2v1h-2zM913 532h2v1h-2zM955 532h1v1h-1zM66 510h1v1h-1zM68 510h1v1h-1zM102 510h1v1h-1zM108 510h1v1h-1zM119 510h1v1h-1zM248 510h1v1h-1zM257 510h1v1h-1zM259 510h1v1h-1zM266 510h1v1h-1zM271 510h1v1h-1zM288 510h1v1h-1zM325 510h1v1h-1zM338 510h1v1h-1zM345 510h2v1h-2zM417 510h1v1h-1zM424 510h1v1h-1zM429 510h1v1h-1zM434 510h1v1h-1zM453 510h1v1h-1zM461 510h1v1h-1zM468 510h1v1h-1zM472 510h1v1h-1zM498 510h1v1h-1zM500 510h1v1h-1zM513 510h1v1h-1zM534 510h1v1h-1zM673 510h1v1h-1zM717 510h1v1h-1zM722 510h1v1h-1zM774 510h1v1h-1zM796 510h1v1h-1zM802 510h1v1h-1zM945 510h2v1h-2zM55 533h1v1h-1zM123 533h1v1h-1zM129 533h1v1h-1zM131 533h1v1h-1zM206 533h1v1h-1zM208 533h1v1h-1zM213 533h2v1h-2zM224 533h1v1h-1zM226 533h1v1h-1zM232 533h1v1h-1zM292 533h2v1h-2zM307 533h1v1h-1zM316 533h1v1h-1zM354 533h1v1h-1zM377 533h1v1h-1zM438 533h1v1h-1zM442 533h1v1h-1zM479 533h1v1h-1zM487 533h1v1h-1zM559 533h1v1h-1zM581 533h1v1h-1zM587 533h1v1h-1zM592 533h3v1h-3zM599 533h1v1h-1zM602 533h1v1h-1zM606 533h1v1h-1zM612 533h1v1h-1zM614 533h1v1h-1zM619 533h1v1h-1zM661 533h1v1h-1zM785 533h1v1h-1zM789 533h1v1h-1zM808 533h1v1h-1zM819 533h1v1h-1zM832 533h1v1h-1zM888 533h1v1h-1zM897 533h1v1h-1zM905 533h1v1h-1zM907 533h1v1h-1zM912 533h1v1h-1zM955 533h1v1h-1zM275 497h1v1h-1zM278 497h1v1h-1zM517 497h1v1h-1zM526 497h1v1h-1zM529 497h2v1h-2zM692 497h1v1h-1zM698 497h1v1h-1zM710 497h1v1h-1zM713 497h1v1h-1zM727 497h1v1h-1zM773 497h1v1h-1zM133 542h1v1h-1zM205 542h1v1h-1zM209 542h1v1h-1zM211 542h1v1h-1zM228 542h1v1h-1zM230 542h1v1h-1zM308 542h1v1h-1zM356 542h1v1h-1zM366 542h1v1h-1zM370 542h1v1h-1zM373 542h1v1h-1zM480 542h1v1h-1zM561 542h1v1h-1zM579 542h1v1h-1zM621 542h1v1h-1zM660 542h1v1h-1zM809 542h1v1h-1zM817 542h1v1h-1zM833 542h1v1h-1zM860 542h1v1h-1zM862 542h1v1h-1zM869 542h1v1h-1zM871 542h1v1h-1zM882 542h1v1h-1zM901 542h1v1h-1zM903 542h1v1h-1zM748 477h2v1h-2zM757 477h1v1h-1zM124 538h2v1h-2zM132 538h1v1h-1zM206 538h1v1h-1zM209 538h1v1h-1zM212 538h1v1h-1zM218 538h1v1h-1zM220 538h1v1h-1zM227 538h1v1h-1zM231 538h1v1h-1zM307 538h1v1h-1zM311 538h1v1h-1zM355 538h1v1h-1zM369 538h1v1h-1zM374 538h1v1h-1zM480 538h1v1h-1zM483 538h2v1h-2zM560 538h1v1h-1zM580 538h1v1h-1zM596 538h1v1h-1zM598 538h1v1h-1zM603 538h1v1h-1zM620 538h1v1h-1zM660 538h1v1h-1zM808 538h1v1h-1zM818 538h1v1h-1zM833 538h1v1h-1zM861 538h1v1h-1zM885 538h1v1h-1zM900 538h1v1h-1zM904 538h1v1h-1zM59 523h1v1h-1zM72 523h1v1h-1zM74 523h1v1h-1zM121 523h1v1h-1zM235 523h1v1h-1zM289 523h1v1h-1zM300 523h1v1h-1zM305 523h1v1h-1zM317 523h1v1h-1zM350 523h1v1h-1zM387 523h1v1h-1zM395 523h1v1h-1zM407 523h1v1h-1zM437 523h1v1h-1zM450 523h1v1h-1zM478 523h1v1h-1zM490 523h1v1h-1zM541 523h1v1h-1zM545 523h1v1h-1zM557 523h1v1h-1zM668 523h1v1h-1zM783 523h1v1h-1zM791 523h1v1h-1zM805 523h1v1h-1zM822 523h1v1h-1zM829 523h1v1h-1zM917 523h1v1h-1zM949 523h1v1h-1zM60 519h1v1h-1zM64 519h1v1h-1zM71 519h1v1h-1zM75 519h1v1h-1zM82 519h1v1h-1zM85 519h1v1h-1zM90 519h2v1h-2zM98 519h1v1h-1zM120 519h1v1h-1zM239 519h1v1h-1zM289 519h1v1h-1zM301 519h1v1h-1zM303 519h1v1h-1zM322 519h1v1h-1zM340 519h2v1h-2zM349 519h1v1h-1zM387 519h1v1h-1zM393 519h1v1h-1zM409 519h1v1h-1zM436 519h1v1h-1zM451 519h1v1h-1zM477 519h1v1h-1zM492 519h1v1h-1zM502 519h2v1h-2zM510 519h2v1h-2zM541 519h1v1h-1zM547 519h1v1h-1zM556 519h1v1h-1zM669 519h1v1h-1zM775 519h1v1h-1zM782 519h1v1h-1zM793 519h1v1h-1zM803 519h1v1h-1zM823 519h1v1h-1zM828 519h1v1h-1zM918 519h2v1h-2zM925 519h1v1h-1zM948 519h1v1h-1zM56 531h1v1h-1zM122 531h1v1h-1zM130 531h2v1h-2zM207 531h1v1h-1zM226 531h1v1h-1zM233 531h1v1h-1zM291 531h1v1h-1zM294 531h1v1h-1zM306 531h1v1h-1zM316 531h1v1h-1zM353 531h1v1h-1zM379 531h2v1h-2zM382 531h2v1h-2zM385 531h1v1h-1zM438 531h1v1h-1zM443 531h1v1h-1zM479 531h1v1h-1zM488 531h1v1h-1zM543 531h1v1h-1zM559 531h1v1h-1zM581 531h1v1h-1zM586 531h1v1h-1zM599 531h1v1h-1zM601 531h1v1h-1zM607 531h1v1h-1zM612 531h1v1h-1zM615 531h1v1h-1zM618 531h1v1h-1zM662 531h1v1h-1zM784 531h1v1h-1zM789 531h1v1h-1zM807 531h1v1h-1zM819 531h1v1h-1zM832 531h1v1h-1zM889 531h1v1h-1zM891 531h5v1h-5zM905 531h1v1h-1zM915 531h1v1h-1zM954 531h1v1h-1zM61 515h2v1h-2zM65 515h1v1h-1zM70 515h1v1h-1zM76 515h1v1h-1zM80 515h1v1h-1zM99 515h1v1h-1zM120 515h1v1h-1zM241 515h1v1h-1zM244 515h1v1h-1zM246 515h1v1h-1zM288 515h1v1h-1zM323 515h1v1h-1zM339 515h1v1h-1zM343 515h1v1h-1zM348 515h1v1h-1zM389 515h1v1h-1zM392 515h1v1h-1zM410 515h1v1h-1zM416 515h1v1h-1zM425 515h1v1h-1zM427 515h1v1h-1zM435 515h1v1h-1zM452 515h1v1h-1zM475 515h1v1h-1zM494 515h1v1h-1zM501 515h1v1h-1zM505 515h1v1h-1zM507 515h2v1h-2zM512 515h1v1h-1zM536 515h1v1h-1zM548 515h1v1h-1zM555 515h1v1h-1zM670 515h1v1h-1zM718 515h1v1h-1zM775 515h1v1h-1zM779 515h1v1h-1zM781 515h1v1h-1zM794 515h1v1h-1zM802 515h1v1h-1zM825 515h1v1h-1zM827 515h1v1h-1zM927 515h1v1h-1zM931 515h1v1h-1zM936 515h1v1h-1zM938 515h1v1h-1zM944 515h1v1h-1zM947 515h1v1h-1zM55 534h1v1h-1zM123 534h1v1h-1zM128 534h1v1h-1zM132 534h1v1h-1zM206 534h1v1h-1zM208 534h1v1h-1zM213 534h1v1h-1zM215 534h1v1h-1zM223 534h1v1h-1zM227 534h1v1h-1zM232 534h1v1h-1zM292 534h1v1h-1zM307 534h1v1h-1zM315 534h1v1h-1zM354 534h1v1h-1zM376 534h1v1h-1zM438 534h5v1h-5zM479 534h1v1h-1zM487 534h1v1h-1zM559 534h1v1h-1zM581 534h1v1h-1zM587 534h1v1h-1zM591 534h1v1h-1zM595 534h1v1h-1zM599 534h1v1h-1zM602 534h1v1h-1zM605 534h1v1h-1zM613 534h2v1h-2zM619 534h1v1h-1zM661 534h1v1h-1zM786 534h1v1h-1zM789 534h1v1h-1zM808 534h1v1h-1zM819 534h1v1h-1zM832 534h1v1h-1zM887 534h1v1h-1zM897 534h1v1h-1zM904 534h1v1h-1zM908 534h4v1h-4zM956 534h1v1h-1zM133 545h1v1h-1zM204 545h1v1h-1zM210 545h1v1h-1zM229 545h1v1h-1zM360 545h2v1h-2zM363 545h2v1h-2zM371 545h1v1h-1zM373 545h1v1h-1zM562 545h1v1h-1zM579 545h1v1h-1zM621 545h1v1h-1zM659 545h1v1h-1zM809 545h1v1h-1zM816 545h1v1h-1zM833 545h1v1h-1zM858 545h1v1h-1zM862 545h1v1h-1zM868 545h1v1h-1zM873 545h1v1h-1zM881 545h1v1h-1zM901 545h2v1h-2zM169 591h1v1h-1zM183 591h1v1h-1zM188 591h1v1h-1zM133 543h1v1h-1zM205 543h1v1h-1zM209 543h1v1h-1zM211 543h1v1h-1zM228 543h1v1h-1zM230 543h1v1h-1zM356 543h2v1h-2zM366 543h1v1h-1zM371 543h1v1h-1zM373 543h1v1h-1zM561 543h1v1h-1zM579 543h1v1h-1zM621 543h1v1h-1zM660 543h1v1h-1zM809 543h1v1h-1zM816 543h1v1h-1zM833 543h1v1h-1zM859 543h1v1h-1zM862 543h1v1h-1zM869 543h1v1h-1zM872 543h1v1h-1zM882 543h1v1h-1zM901 543h1v1h-1zM903 543h1v1h-1zM58 528h1v1h-1zM122 528h1v1h-1zM234 528h1v1h-1zM291 528h1v1h-1zM297 528h2v1h-2zM306 528h1v1h-1zM317 528h1v1h-1zM352 528h1v1h-1zM386 528h1v1h-1zM437 528h1v1h-1zM444 528h1v1h-1zM448 528h1v1h-1zM478 528h1v1h-1zM488 528h1v1h-1zM542 528h1v1h-1zM544 528h1v1h-1zM558 528h1v1h-1zM583 528h1v1h-1zM585 528h1v1h-1zM600 528h1v1h-1zM609 528h1v1h-1zM611 528h1v1h-1zM663 528h1v1h-1zM667 528h1v1h-1zM784 528h1v1h-1zM790 528h1v1h-1zM807 528h1v1h-1zM820 528h1v1h-1zM832 528h1v1h-1zM916 528h1v1h-1zM952 528h1v1h-1zM146 574h1v1h-1zM161 574h2v1h-2zM190 574h1v1h-1zM848 574h1v1h-1zM137 567h1v1h-1zM140 567h1v1h-1zM191 567h1v1h-1zM647 567h1v1h-1zM653 567h1v1h-1zM845 567h1v1h-1zM850 567h1v1h-1zM124 537h1v1h-1zM126 537h1v1h-1zM132 537h1v1h-1zM206 537h1v1h-1zM208 537h1v1h-1zM212 537h1v1h-1zM218 537h1v1h-1zM221 537h1v1h-1zM227 537h1v1h-1zM231 537h1v1h-1zM307 537h1v1h-1zM312 537h2v1h-2zM355 537h1v1h-1zM375 537h1v1h-1zM479 537h1v1h-1zM485 537h2v1h-2zM560 537h1v1h-1zM580 537h1v1h-1zM588 537h1v1h-1zM596 537h1v1h-1zM598 537h1v1h-1zM603 537h2v1h-2zM620 537h1v1h-1zM661 537h1v1h-1zM788 537h1v1h-1zM808 537h1v1h-1zM818 537h1v1h-1zM833 537h1v1h-1zM886 537h1v1h-1zM899 537h1v1h-1zM904 537h1v1h-1zM58 525h1v1h-1zM73 525h2v1h-2zM121 525h1v1h-1zM234 525h1v1h-1zM290 525h1v1h-1zM300 525h1v1h-1zM305 525h1v1h-1zM317 525h1v1h-1zM350 525h1v1h-1zM386 525h1v1h-1zM397 525h2v1h-2zM401 525h1v1h-1zM406 525h1v1h-1zM437 525h1v1h-1zM445 525h2v1h-2zM449 525h1v1h-1zM478 525h1v1h-1zM489 525h1v1h-1zM542 525h1v1h-1zM545 525h1v1h-1zM558 525h1v1h-1zM584 525h1v1h-1zM664 525h2v1h-2zM668 525h1v1h-1zM783 525h1v1h-1zM791 525h1v1h-1zM806 525h1v1h-1zM821 525h1v1h-1zM830 525h1v1h-1zM916 525h1v1h-1zM950 525h1v1h-1zM57 530h1v1h-1zM122 530h1v1h-1zM131 530h1v1h-1zM207 530h1v1h-1zM233 530h1v1h-1zM291 530h1v1h-1zM295 530h1v1h-1zM306 530h1v1h-1zM316 530h1v1h-1zM353 530h1v1h-1zM381 530h1v1h-1zM385 530h1v1h-1zM437 530h1v1h-1zM443 530h1v1h-1zM479 530h1v1h-1zM488 530h1v1h-1zM543 530h2v1h-2zM558 530h1v1h-1zM582 530h1v1h-1zM586 530h1v1h-1zM600 530h2v1h-2zM608 530h1v1h-1zM611 530h1v1h-1zM616 530h2v1h-2zM662 530h1v1h-1zM784 530h1v1h-1zM790 530h1v1h-1zM807 530h1v1h-1zM820 530h1v1h-1zM832 530h1v1h-1zM889 530h2v1h-2zM915 530h1v1h-1zM953 530h1v1h-1zM135 559h1v1h-1zM195 559h1v1h-1zM626 559h1v1h-1zM633 559h1v1h-1zM642 559h1v1h-1zM657 559h1v1h-1zM835 559h2v1h-2zM842 559h1v1h-1zM855 559h1v1h-1zM135 556h1v1h-1zM196 556h1v1h-1zM624 556h1v1h-1zM636 556h1v1h-1zM640 556h1v1h-1zM658 556h1v1h-1zM834 556h1v1h-1zM837 556h1v1h-1zM840 556h1v1h-1zM856 556h1v1h-1zM137 568h1v1h-1zM139 568h1v1h-1zM141 568h2v1h-2zM191 568h1v1h-1zM648 568h1v1h-1zM653 568h1v1h-1zM846 568h1v1h-1zM850 568h1v1h-1zM251 500h1v1h-1zM273 500h1v1h-1zM280 500h1v1h-1zM284 500h3v1h-3zM330 500h2v1h-2zM515 500h1v1h-1zM531 500h1v1h-1zM691 500h1v1h-1zM699 500h2v1h-2zM706 500h1v1h-1zM709 500h1v1h-1zM714 500h1v1h-1zM725 500h1v1h-1zM773 500h1v1h-1zM800 500h1v1h-1zM152 580h1v1h-1zM157 580h1v1h-1zM164 580h1v1h-1zM189 580h1v1h-1zM134 547h1v1h-1zM203 547h1v1h-1zM372 547h1v1h-1zM562 547h2v1h-2zM579 547h1v1h-1zM622 547h1v1h-1zM659 547h1v1h-1zM809 547h1v1h-1zM815 547h1v1h-1zM834 547h1v1h-1zM858 547h1v1h-1zM863 547h1v1h-1zM867 547h1v1h-1zM902 547h1v1h-1zM168 589h1v1h-1zM184 589h1v1h-1zM187 589h2v1h-2zM59 521h1v1h-1zM72 521h1v1h-1zM75 521h1v1h-1zM83 521h2v1h-2zM94 521h2v1h-2zM97 521h1v1h-1zM120 521h1v1h-1zM237 521h2v1h-2zM289 521h1v1h-1zM301 521h1v1h-1zM304 521h1v1h-1zM318 521h1v1h-1zM320 521h2v1h-2zM349 521h1v1h-1zM387 521h1v1h-1zM394 521h1v1h-1zM408 521h1v1h-1zM436 521h1v1h-1zM450 521h1v1h-1zM477 521h1v1h-1zM491 521h1v1h-1zM511 521h1v1h-1zM541 521h1v1h-1zM546 521h1v1h-1zM557 521h1v1h-1zM669 521h1v1h-1zM782 521h1v1h-1zM792 521h1v1h-1zM804 521h1v1h-1zM823 521h1v1h-1zM829 521h1v1h-1zM917 521h1v1h-1zM921 521h4v1h-4zM948 521h1v1h-1zM66 513h1v1h-1zM70 513h1v1h-1zM77 513h3v1h-3zM100 513h1v1h-1zM119 513h1v1h-1zM242 513h2v1h-2zM247 513h1v1h-1zM267 513h2v1h-2zM270 513h1v1h-1zM288 513h1v1h-1zM324 513h1v1h-1zM338 513h1v1h-1zM344 513h1v1h-1zM347 513h1v1h-1zM390 513h1v1h-1zM392 513h1v1h-1zM417 513h1v1h-1zM425 513h1v1h-1zM428 513h1v1h-1zM435 513h1v1h-1zM452 513h1v1h-1zM466 513h2v1h-2zM474 513h1v1h-1zM496 513h1v1h-1zM500 513h1v1h-1zM512 513h1v1h-1zM535 513h1v1h-1zM549 513h1v1h-1zM554 513h1v1h-1zM671 513h1v1h-1zM718 513h1v1h-1zM721 513h1v1h-1zM774 513h1v1h-1zM780 513h2v1h-2zM795 513h1v1h-1zM802 513h1v1h-1zM826 513h1v1h-1zM945 513h1v1h-1zM947 513h1v1h-1zM54 535h1v1h-1zM123 535h1v1h-1zM127 535h1v1h-1zM132 535h1v1h-1zM206 535h1v1h-1zM208 535h1v1h-1zM212 535h1v1h-1zM216 535h1v1h-1zM222 535h1v1h-1zM227 535h1v1h-1zM232 535h1v1h-1zM307 535h1v1h-1zM315 535h1v1h-1zM354 535h1v1h-1zM375 535h1v1h-1zM479 535h1v1h-1zM487 535h1v1h-1zM559 535h1v1h-1zM581 535h1v1h-1zM587 535h1v1h-1zM590 535h1v1h-1zM595 535h1v1h-1zM598 535h1v1h-1zM602 535h1v1h-1zM605 535h1v1h-1zM613 535h1v1h-1zM620 535h1v1h-1zM661 535h1v1h-1zM787 535h2v1h-2zM808 535h1v1h-1zM818 535h1v1h-1zM833 535h1v1h-1zM887 535h1v1h-1zM898 535h1v1h-1zM904 535h1v1h-1zM957 535h2v1h-2zM59 522h1v1h-1zM72 522h1v1h-1zM74 522h1v1h-1zM83 522h1v1h-1zM96 522h1v1h-1zM121 522h1v1h-1zM236 522h1v1h-1zM289 522h1v1h-1zM301 522h1v1h-1zM304 522h1v1h-1zM318 522h1v1h-1zM349 522h1v1h-1zM387 522h1v1h-1zM394 522h1v1h-1zM408 522h1v1h-1zM436 522h1v1h-1zM450 522h1v1h-1zM478 522h1v1h-1zM491 522h1v1h-1zM541 522h1v1h-1zM546 522h1v1h-1zM557 522h1v1h-1zM668 522h1v1h-1zM783 522h1v1h-1zM791 522h1v1h-1zM804 522h1v1h-1zM822 522h1v1h-1zM829 522h1v1h-1zM917 522h1v1h-1zM949 522h1v1h-1zM57 529h1v1h-1zM122 529h1v1h-1zM233 529h1v1h-1zM291 529h1v1h-1zM296 529h1v1h-1zM306 529h1v1h-1zM316 529h1v1h-1zM352 529h1v1h-1zM386 529h1v1h-1zM437 529h1v1h-1zM444 529h1v1h-1zM478 529h1v1h-1zM488 529h1v1h-1zM542 529h1v1h-1zM544 529h1v1h-1zM558 529h1v1h-1zM582 529h1v1h-1zM585 529h1v1h-1zM600 529h1v1h-1zM608 529h1v1h-1zM611 529h1v1h-1zM616 529h1v1h-1zM663 529h1v1h-1zM784 529h1v1h-1zM790 529h1v1h-1zM807 529h1v1h-1zM820 529h1v1h-1zM832 529h1v1h-1zM915 529h1v1h-1zM952 529h1v1h-1zM66 512h1v1h-1zM69 512h1v1h-1zM77 512h1v1h-1zM101 512h1v1h-1zM119 512h1v1h-1zM242 512h1v1h-1zM247 512h1v1h-1zM267 512h1v1h-1zM270 512h1v1h-1zM288 512h1v1h-1zM324 512h1v1h-1zM338 512h1v1h-1zM344 512h1v1h-1zM347 512h1v1h-1zM390 512h2v1h-2zM417 512h1v1h-1zM425 512h1v1h-1zM428 512h1v1h-1zM435 512h1v1h-1zM453 512h1v1h-1zM464 512h2v1h-2zM467 512h1v1h-1zM474 512h1v1h-1zM497 512h1v1h-1zM500 512h1v1h-1zM513 512h1v1h-1zM534 512h1v1h-1zM550 512h1v1h-1zM554 512h1v1h-1zM672 512h1v1h-1zM717 512h1v1h-1zM721 512h1v1h-1zM774 512h1v1h-1zM781 512h1v1h-1zM795 512h1v1h-1zM802 512h1v1h-1zM826 512h1v1h-1zM945 512h1v1h-1zM947 512h1v1h-1zM58 526h1v1h-1zM73 526h1v1h-1zM121 526h1v1h-1zM234 526h1v1h-1zM290 526h1v1h-1zM299 526h1v1h-1zM305 526h1v1h-1zM317 526h1v1h-1zM351 526h1v1h-1zM386 526h1v1h-1zM402 526h2v1h-2zM405 526h1v1h-1zM437 526h1v1h-1zM444 526h1v1h-1zM447 526h1v1h-1zM449 526h1v1h-1zM478 526h1v1h-1zM489 526h1v1h-1zM542 526h1v1h-1zM545 526h1v1h-1zM558 526h1v1h-1zM584 526h1v1h-1zM610 526h1v1h-1zM663 526h1v1h-1zM666 526h2v1h-2zM783 526h1v1h-1zM790 526h1v1h-1zM806 526h1v1h-1zM821 526h1v1h-1zM831 526h1v1h-1zM916 526h1v1h-1zM950 526h1v1h-1zM744 482h1v1h-1zM757 482h1v1h-1zM768 482h2v1h-2zM521 490h1v1h-1zM524 490h1v1h-1zM729 490h1v1h-1zM734 490h1v1h-1zM759 490h1v1h-1zM761 490h2v1h-2zM772 490h1v1h-1zM58 527h1v1h-1zM73 527h1v1h-1zM121 527h1v1h-1zM234 527h1v1h-1zM290 527h1v1h-1zM299 527h1v1h-1zM306 527h1v1h-1zM317 527h1v1h-1zM351 527h1v1h-1zM386 527h1v1h-1zM404 527h1v1h-1zM437 527h1v1h-1zM444 527h1v1h-1zM447 527h2v1h-2zM478 527h1v1h-1zM489 527h1v1h-1zM542 527h1v1h-1zM544 527h1v1h-1zM558 527h1v1h-1zM583 527h1v1h-1zM585 527h1v1h-1zM609 527h2v1h-2zM663 527h1v1h-1zM666 527h2v1h-2zM783 527h1v1h-1zM790 527h1v1h-1zM807 527h1v1h-1zM821 527h1v1h-1zM831 527h1v1h-1zM916 527h1v1h-1zM951 527h1v1h-1zM729 488h1v1h-1zM732 488h1v1h-1zM736 488h1v1h-1zM758 488h1v1h-1zM763 488h1v1h-1zM772 488h1v1h-1zM135 557h1v1h-1zM196 557h1v1h-1zM625 557h1v1h-1zM635 557h1v1h-1zM641 557h1v1h-1zM658 557h1v1h-1zM835 557h1v1h-1zM837 557h1v1h-1zM841 557h1v1h-1zM856 557h1v1h-1zM134 548h1v1h-1zM203 548h1v1h-1zM564 548h6v1h-6zM578 548h1v1h-1zM622 548h1v1h-1zM659 548h1v1h-1zM809 548h1v1h-1zM815 548h1v1h-1zM834 548h1v1h-1zM857 548h1v1h-1zM863 548h1v1h-1zM866 548h1v1h-1zM274 499h1v1h-1zM279 499h1v1h-1zM286 499h1v1h-1zM515 499h1v1h-1zM527 499h1v1h-1zM531 499h1v1h-1zM691 499h1v1h-1zM699 499h1v1h-1zM701 499h3v1h-3zM706 499h1v1h-1zM709 499h1v1h-1zM713 499h1v1h-1zM726 499h1v1h-1zM773 499h1v1h-1zM800 499h1v1h-1zM136 561h1v1h-1zM195 561h1v1h-1zM627 561h1v1h-1zM632 561h1v1h-1zM643 561h1v1h-1zM657 561h1v1h-1zM835 561h1v1h-1zM843 561h1v1h-1zM851 561h1v1h-1zM855 561h1v1h-1zM135 553h1v1h-1zM197 553h1v1h-1zM571 553h1v1h-1zM575 553h1v1h-1zM623 553h1v1h-1zM637 553h1v1h-1zM639 553h1v1h-1zM658 553h1v1h-1zM810 553h1v1h-1zM834 553h1v1h-1zM838 553h1v1h-1zM856 553h1v1h-1zM864 553h1v1h-1zM136 564h1v1h-1zM194 564h1v1h-1zM628 564h1v1h-1zM630 564h1v1h-1zM645 564h1v1h-1zM654 564h1v1h-1zM844 564h1v1h-1zM850 564h1v1h-1zM853 564h2v1h-2zM133 541h1v1h-1zM205 541h1v1h-1zM209 541h1v1h-1zM211 541h1v1h-1zM228 541h1v1h-1zM230 541h1v1h-1zM308 541h2v1h-2zM356 541h1v1h-1zM367 541h1v1h-1zM370 541h1v1h-1zM374 541h1v1h-1zM480 541h2v1h-2zM561 541h1v1h-1zM580 541h1v1h-1zM621 541h1v1h-1zM660 541h1v1h-1zM809 541h1v1h-1zM817 541h1v1h-1zM833 541h1v1h-1zM860 541h1v1h-1zM862 541h1v1h-1zM870 541h2v1h-2zM883 541h1v1h-1zM900 541h1v1h-1zM903 541h1v1h-1zM520 491h1v1h-1zM525 491h1v1h-1zM729 491h1v1h-1zM759 491h2v1h-2zM772 491h1v1h-1zM275 498h1v1h-1zM279 498h1v1h-1zM516 498h1v1h-1zM527 498h2v1h-2zM531 498h1v1h-1zM692 498h1v1h-1zM698 498h1v1h-1zM704 498h2v1h-2zM710 498h1v1h-1zM713 498h1v1h-1zM726 498h1v1h-1zM773 498h1v1h-1zM146 575h2v1h-2zM160 575h1v1h-1zM163 575h1v1h-1zM190 575h1v1h-1zM848 575h1v1h-1zM116 505h3v1h-3zM250 505h1v1h-1zM254 505h1v1h-1zM263 505h2v1h-2zM272 505h1v1h-1zM287 505h1v1h-1zM326 505h1v1h-1zM333 505h1v1h-1zM419 505h1v1h-1zM423 505h1v1h-1zM456 505h1v1h-1zM458 505h1v1h-1zM514 505h1v1h-1zM532 505h1v1h-1zM684 505h1v1h-1zM716 505h1v1h-1zM723 505h1v1h-1zM774 505h1v1h-1zM797 505h1v1h-1zM801 505h1v1h-1zM133 540h1v1h-1zM205 540h1v1h-1zM209 540h1v1h-1zM211 540h1v1h-1zM228 540h1v1h-1zM231 540h1v1h-1zM308 540h1v1h-1zM310 540h1v1h-1zM355 540h1v1h-1zM368 540h1v1h-1zM370 540h1v1h-1zM374 540h1v1h-1zM480 540h1v1h-1zM482 540h1v1h-1zM561 540h1v1h-1zM580 540h1v1h-1zM597 540h1v1h-1zM620 540h1v1h-1zM660 540h1v1h-1zM808 540h1v1h-1zM817 540h1v1h-1zM833 540h1v1h-1zM860 540h2v1h-2zM870 540h1v1h-1zM884 540h1v1h-1zM900 540h1v1h-1zM903 540h1v1h-1zM145 573h1v1h-1zM162 573h1v1h-1zM190 573h1v1h-1zM651 573h1v1h-1zM847 573h2v1h-2zM173 597h2v1h-2zM176 597h1v1h-1zM181 597h1v1h-1zM251 501h2v1h-2zM273 501h1v1h-1zM280 501h4v1h-4zM286 501h1v1h-1zM328 501h2v1h-2zM331 501h1v1h-1zM515 501h1v1h-1zM531 501h1v1h-1zM690 501h1v1h-1zM707 501h1v1h-1zM709 501h1v1h-1zM714 501h1v1h-1zM725 501h1v1h-1zM773 501h1v1h-1zM799 501h2v1h-2zM112 506h4v1h-4zM118 506h1v1h-1zM249 506h1v1h-1zM255 506h1v1h-1zM263 506h1v1h-1zM265 506h1v1h-1zM272 506h1v1h-1zM287 506h1v1h-1zM326 506h1v1h-1zM333 506h1v1h-1zM418 506h1v1h-1zM423 506h1v1h-1zM455 506h1v1h-1zM458 506h1v1h-1zM470 506h1v1h-1zM514 506h1v1h-1zM533 506h1v1h-1zM679 506h5v1h-5zM716 506h1v1h-1zM723 506h1v1h-1zM774 506h1v1h-1zM797 506h1v1h-1zM801 506h1v1h-1zM67 509h2v1h-2zM102 509h2v1h-2zM106 509h2v1h-2zM109 509h1v1h-1zM119 509h1v1h-1zM249 509h1v1h-1zM257 509h1v1h-1zM260 509h1v1h-1zM266 509h1v1h-1zM271 509h1v1h-1zM287 509h1v1h-1zM325 509h1v1h-1zM337 509h1v1h-1zM346 509h1v1h-1zM418 509h1v1h-1zM424 509h1v1h-1zM430 509h1v1h-1zM433 509h1v1h-1zM453 509h1v1h-1zM460 509h1v1h-1zM469 509h1v1h-1zM472 509h1v1h-1zM498 509h2v1h-2zM513 509h1v1h-1zM533 509h1v1h-1zM674 509h2v1h-2zM717 509h1v1h-1zM722 509h1v1h-1zM774 509h1v1h-1zM796 509h1v1h-1zM801 509h1v1h-1zM946 509h1v1h-1zM133 544h1v1h-1zM204 544h1v1h-1zM210 544h1v1h-1zM229 544h2v1h-2zM358 544h2v1h-2zM365 544h1v1h-1zM371 544h1v1h-1zM373 544h1v1h-1zM561 544h1v1h-1zM579 544h1v1h-1zM621 544h1v1h-1zM660 544h1v1h-1zM809 544h1v1h-1zM816 544h1v1h-1zM833 544h1v1h-1zM859 544h1v1h-1zM862 544h1v1h-1zM868 544h1v1h-1zM872 544h1v1h-1zM881 544h1v1h-1zM901 544h1v1h-1zM903 544h1v1h-1zM751 475h1v1h-1zM756 475h1v1h-1zM66 511h1v1h-1zM69 511h1v1h-1zM101 511h1v1h-1zM119 511h1v1h-1zM248 511h1v1h-1zM258 511h1v1h-1zM266 511h1v1h-1zM271 511h1v1h-1zM288 511h1v1h-1zM324 511h1v1h-1zM338 511h1v1h-1zM345 511h1v1h-1zM347 511h1v1h-1zM391 511h1v1h-1zM417 511h1v1h-1zM425 511h1v1h-1zM429 511h1v1h-1zM434 511h1v1h-1zM453 511h1v1h-1zM462 511h2v1h-2zM468 511h1v1h-1zM473 511h1v1h-1zM497 511h1v1h-1zM500 511h1v1h-1zM513 511h1v1h-1zM534 511h1v1h-1zM550 511h4v1h-4zM672 511h1v1h-1zM717 511h1v1h-1zM722 511h1v1h-1zM774 511h1v1h-1zM796 511h1v1h-1zM802 511h1v1h-1zM945 511h1v1h-1zM947 511h1v1h-1zM134 546h1v1h-1zM204 546h1v1h-1zM210 546h1v1h-1zM229 546h1v1h-1zM362 546h1v1h-1zM372 546h1v1h-1zM562 546h1v1h-1zM579 546h1v1h-1zM622 546h1v1h-1zM659 546h1v1h-1zM809 546h1v1h-1zM816 546h1v1h-1zM834 546h1v1h-1zM858 546h1v1h-1zM863 546h1v1h-1zM867 546h1v1h-1zM873 546h8v1h-8zM902 546h1v1h-1zM136 560h1v1h-1zM195 560h1v1h-1zM626 560h1v1h-1zM632 560h1v1h-1zM642 560h1v1h-1zM657 560h1v1h-1zM835 560h2v1h-2zM842 560h1v1h-1zM855 560h1v1h-1zM134 549h1v1h-1zM202 549h1v1h-1zM569 549h1v1h-1zM578 549h1v1h-1zM622 549h1v1h-1zM659 549h1v1h-1zM810 549h1v1h-1zM814 549h1v1h-1zM834 549h1v1h-1zM857 549h1v1h-1zM863 549h1v1h-1zM866 549h1v1h-1zM167 587h1v1h-1zM185 587h2v1h-2zM188 587h1v1h-1zM60 518h1v1h-1zM63 518h2v1h-2zM71 518h1v1h-1zM75 518h1v1h-1zM82 518h1v1h-1zM86 518h4v1h-4zM98 518h1v1h-1zM120 518h1v1h-1zM240 518h1v1h-1zM289 518h1v1h-1zM302 518h1v1h-1zM322 518h1v1h-1zM340 518h2v1h-2zM348 518h1v1h-1zM388 518h1v1h-1zM393 518h1v1h-1zM409 518h1v1h-1zM426 518h1v1h-1zM436 518h1v1h-1zM451 518h1v1h-1zM477 518h1v1h-1zM492 518h1v1h-1zM502 518h2v1h-2zM510 518h1v1h-1zM512 518h1v1h-1zM537 518h1v1h-1zM540 518h1v1h-1zM547 518h1v1h-1zM556 518h1v1h-1zM669 518h1v1h-1zM775 518h2v1h-2zM782 518h1v1h-1zM793 518h1v1h-1zM803 518h1v1h-1zM824 518h1v1h-1zM828 518h1v1h-1zM918 518h1v1h-1zM925 518h1v1h-1zM934 518h1v1h-1zM940 518h4v1h-4zM948 518h1v1h-1zM137 570h1v1h-1zM144 570h1v1h-1zM190 570h1v1h-1zM649 570h1v1h-1zM652 570h1v1h-1zM846 570h1v1h-1zM849 570h1v1h-1zM67 508h1v1h-1zM104 508h2v1h-2zM110 508h1v1h-1zM119 508h1v1h-1zM249 508h1v1h-1zM256 508h1v1h-1zM261 508h1v1h-1zM265 508h1v1h-1zM271 508h1v1h-1zM287 508h1v1h-1zM325 508h1v1h-1zM334 508h2v1h-2zM337 508h1v1h-1zM418 508h1v1h-1zM424 508h1v1h-1zM431 508h1v1h-1zM433 508h1v1h-1zM454 508h1v1h-1zM460 508h1v1h-1zM469 508h1v1h-1zM471 508h1v1h-1zM499 508h1v1h-1zM513 508h1v1h-1zM533 508h1v1h-1zM676 508h1v1h-1zM716 508h1v1h-1zM723 508h1v1h-1zM774 508h1v1h-1zM796 508h1v1h-1zM801 508h1v1h-1zM946 508h1v1h-1zM134 550h1v1h-1zM201 550h1v1h-1zM570 550h1v1h-1zM578 550h1v1h-1zM622 550h1v1h-1zM659 550h1v1h-1zM810 550h1v1h-1zM814 550h1v1h-1zM834 550h1v1h-1zM857 550h1v1h-1zM863 550h1v1h-1zM866 550h1v1h-1zM152 579h1v1h-1zM157 579h1v1h-1zM164 579h1v1h-1zM189 579h1v1h-1zM134 552h1v1h-1zM197 552h1v1h-1zM199 552h2v1h-2zM571 552h1v1h-1zM576 552h2v1h-2zM623 552h1v1h-1zM638 552h1v1h-1zM658 552h1v1h-1zM810 552h3v1h-3zM834 552h1v1h-1zM856 552h1v1h-1zM864 552h2v1h-2zM165 582h1v1h-1zM189 582h1v1h-1zM276 496h1v1h-1zM278 496h1v1h-1zM518 496h1v1h-1zM526 496h1v1h-1zM530 496h1v1h-1zM693 496h1v1h-1zM698 496h1v1h-1zM710 496h1v1h-1zM712 496h1v1h-1zM727 496h1v1h-1zM773 496h1v1h-1zM743 484h1v1h-1zM758 484h1v1h-1zM765 484h1v1h-1zM770 484h1v1h-1zM519 493h1v1h-1zM525 493h1v1h-1zM695 493h2v1h-2zM711 493h1v1h-1zM728 493h1v1h-1zM773 493h1v1h-1zM746 478h2v1h-2zM757 478h1v1h-1zM730 487h2v1h-2zM737 487h1v1h-1zM758 487h1v1h-1zM764 487h1v1h-1zM772 487h1v1h-1zM136 566h1v1h-1zM191 566h1v1h-1zM193 566h2v1h-2zM629 566h1v1h-1zM647 566h1v1h-1zM653 566h1v1h-1zM845 566h1v1h-1zM850 566h1v1h-1zM172 596h1v1h-1zM176 596h1v1h-1zM180 596h2v1h-2zM111 507h1v1h-1zM118 507h1v1h-1zM249 507h1v1h-1zM255 507h1v1h-1zM262 507h1v1h-1zM265 507h1v1h-1zM272 507h1v1h-1zM287 507h1v1h-1zM326 507h1v1h-1zM334 507h1v1h-1zM336 507h2v1h-2zM418 507h1v1h-1zM424 507h1v1h-1zM432 507h1v1h-1zM454 507h1v1h-1zM459 507h1v1h-1zM470 507h2v1h-2zM514 507h1v1h-1zM533 507h1v1h-1zM677 507h2v1h-2zM716 507h1v1h-1zM723 507h1v1h-1zM774 507h1v1h-1zM797 507h1v1h-1zM801 507h1v1h-1zM118 504h1v1h-1zM250 504h1v1h-1zM253 504h1v1h-1zM264 504h1v1h-1zM272 504h1v1h-1zM287 504h1v1h-1zM326 504h1v1h-1zM333 504h1v1h-1zM419 504h1v1h-1zM421 504h3v1h-3zM457 504h1v1h-1zM514 504h1v1h-1zM532 504h1v1h-1zM685 504h1v1h-1zM689 504h1v1h-1zM715 504h1v1h-1zM724 504h1v1h-1zM774 504h1v1h-1zM798 504h1v1h-1zM801 504h1v1h-1zM148 576h3v1h-3zM159 576h1v1h-1zM163 576h1v1h-1zM190 576h1v1h-1zM166 585h1v1h-1zM189 585h1v1h-1zM135 558h1v1h-1zM196 558h1v1h-1zM625 558h1v1h-1zM634 558h1v1h-1zM641 558h1v1h-1zM658 558h1v1h-1zM835 558h2v1h-2zM841 558h1v1h-1zM855 558h1v1h-1zM134 551h1v1h-1zM197 551h2v1h-2zM201 551h1v1h-1zM570 551h1v1h-1zM578 551h1v1h-1zM622 551h1v1h-1zM638 551h1v1h-1zM659 551h1v1h-1zM810 551h1v1h-1zM813 551h1v1h-1zM834 551h1v1h-1zM857 551h1v1h-1zM863 551h1v1h-1zM865 551h1v1h-1zM520 492h1v1h-1zM525 492h1v1h-1zM696 492h1v1h-1zM728 492h1v1h-1zM772 492h1v1h-1zM144 571h1v1h-1zM190 571h1v1h-1zM650 571h1v1h-1zM652 571h1v1h-1zM847 571h1v1h-1zM849 571h1v1h-1zM753 473h2v1h-2zM746 479h1v1h-1zM757 479h1v1h-1zM169 592h1v1h-1zM183 592h1v1h-1zM744 483h1v1h-1zM758 483h1v1h-1zM766 483h2v1h-2zM770 483h1v1h-1zM60 520h1v1h-1zM71 520h1v1h-1zM75 520h1v1h-1zM82 520h1v1h-1zM85 520h1v1h-1zM92 520h2v1h-2zM97 520h1v1h-1zM120 520h1v1h-1zM239 520h1v1h-1zM289 520h1v1h-1zM301 520h1v1h-1zM303 520h1v1h-1zM318 520h2v1h-2zM321 520h1v1h-1zM340 520h1v1h-1zM349 520h1v1h-1zM387 520h1v1h-1zM393 520h1v1h-1zM408 520h1v1h-1zM436 520h1v1h-1zM450 520h1v1h-1zM477 520h1v1h-1zM491 520h1v1h-1zM502 520h1v1h-1zM511 520h1v1h-1zM541 520h1v1h-1zM546 520h1v1h-1zM557 520h1v1h-1zM669 520h1v1h-1zM782 520h1v1h-1zM792 520h1v1h-1zM803 520h1v1h-1zM823 520h1v1h-1zM828 520h1v1h-1zM918 520h1v1h-1zM920 520h1v1h-1zM924 520h1v1h-1zM948 520h1v1h-1zM730 486h1v1h-1zM738 486h2v1h-2zM758 486h1v1h-1zM764 486h1v1h-1zM771 486h1v1h-1zM136 563h1v1h-1zM195 563h1v1h-1zM628 563h1v1h-1zM631 563h1v1h-1zM644 563h1v1h-1zM655 563h2v1h-2zM844 563h1v1h-1zM851 563h1v1h-1zM853 563h2v1h-2zM136 565h1v1h-1zM191 565h2v1h-2zM194 565h1v1h-1zM629 565h2v1h-2zM646 565h1v1h-1zM654 565h1v1h-1zM845 565h1v1h-1zM850 565h1v1h-1zM854 565h1v1h-1zM175 598h1v1h-1zM145 572h1v1h-1zM190 572h1v1h-1zM650 572h2v1h-2zM847 572h1v1h-1zM849 572h1v1h-1zM151 578h1v1h-1zM158 578h1v1h-1zM164 578h1v1h-1zM190 578h1v1h-1zM171 595h1v1h-1zM177 595h1v1h-1zM180 595h1v1h-1zM182 595h1v1h-1zM165 584h1v1h-1zM189 584h1v1h-1zM752 474h1v1h-1zM755 474h2v1h-2zM151 577h1v1h-1zM158 577h1v1h-1zM163 577h1v1h-1zM190 577h1v1h-1zM521 489h4v1h-4zM729 489h1v1h-1zM733 489h1v1h-1zM735 489h1v1h-1zM759 489h1v1h-1zM763 489h1v1h-1zM772 489h1v1h-1zM745 481h1v1h-1zM757 481h1v1h-1zM165 583h1v1h-1zM189 583h1v1h-1zM750 476h1v1h-1zM756 476h1v1h-1zM135 555h1v1h-1zM196 555h1v1h-1zM572 555h1v1h-1zM624 555h1v1h-1zM636 555h1v1h-1zM640 555h1v1h-1zM658 555h1v1h-1zM834 555h1v1h-1zM837 555h1v1h-1zM839 555h1v1h-1zM856 555h1v1h-1zM171 594h1v1h-1zM177 594h1v1h-1zM179 594h1v1h-1zM182 594h1v1h-1zM740 485h4v1h-4zM758 485h1v1h-1zM765 485h1v1h-1zM771 485h1v1h-1zM519 494h1v1h-1zM526 494h1v1h-1zM694 494h1v1h-1zM697 494h1v1h-1zM711 494h1v1h-1zM728 494h1v1h-1zM773 494h1v1h-1zM170 593h1v1h-1zM178 593h1v1h-1zM182 593h1v1h-1zM166 586h1v1h-1zM185 586h1v1h-1zM189 586h1v1h-1zM136 562h1v1h-1zM195 562h1v1h-1zM627 562h1v1h-1zM631 562h1v1h-1zM644 562h1v1h-1zM657 562h1v1h-1zM835 562h1v1h-1zM843 562h1v1h-1zM851 562h2v1h-2zM855 562h1v1h-1zM745 480h1v1h-1zM757 480h1v1h-1zM277 495h1v1h-1zM518 495h1v1h-1zM526 495h1v1h-1zM694 495h1v1h-1zM697 495h1v1h-1zM710 495h1v1h-1zM712 495h1v1h-1zM727 495h1v1h-1zM773 495h1v1h-1zM167 588h1v1h-1zM184 588h1v1h-1zM186 588h1v1h-1zM188 588h1v1h-1zM153 581h4v1h-4zM164 581h1v1h-1zM189 581h1v1h-1zM168 590h1v1h-1zM184 590h1v1h-1zM187 590h2v1h-2z" fill="#ff0000"/><path d="M924 535h2v1h-2zM904 546h2v1h-2zM849 575h2v1h-2zM868 565h2v1h-2zM935 529h2v1h-2zM857 571h2v1h-2zM859 570h2v1h-2zM921 537h1v1h-1zM866 566h2v1h-2zM939 527h2v1h-2zM928 533h2v1h-2zM930 532h2v1h-2zM874 562h2v1h-2zM937 528h2v1h-2zM883 557h2v1h-2zM947 523h2v1h-2zM887 555h2v1h-2zM954 519h2v1h-2zM900 548h2v1h-2zM952 520h2v1h-2zM898 549h2v1h-2zM885 556h2v1h-2zM943 525h2v1h-2zM889 554h2v1h-2zM958 517h2v1h-2zM851 574h2v1h-2zM896 550h2v1h-2zM915 540h2v1h-2zM956 518h2v1h-2zM902 547h2v1h-2zM960 516h2v1h-2zM922 536h2v1h-2zM913 541h2v1h-2zM907 544h2v1h-2zM853 573h2v1h-2zM911 542h2v1h-2zM919 538h2v1h-2zM917 539h2v1h-2zM863 568h1v1h-1zM864 567h2v1h-2zM962 515h2v1h-2zM926 534h2v1h-2zM870 564h2v1h-2zM861 569h2v1h-2zM934 530h1v1h-1zM879 559h2v1h-2zM881 558h2v1h-2zM872 563h2v1h-2zM941 526h2v1h-2zM932 531h2v1h-2zM950 521h2v1h-2zM876 561h1v1h-1zM894 551h2v1h-2zM945 524h2v1h-2zM892 552h2v1h-2zM909 543h2v1h-2zM855 572h2v1h-2zM949 522h1v1h-1zM877 560h2v1h-2zM906 545h1v1h-1zM891 553h1v1h-1zM848 576h1v1h-1z" fill="#0000ff"/></g>
<path d="M965 29h4v1h-4zM965 44h4v1h-4zM965 58h4v1h-4zM965 73h4v1h-4zM965 88h4v1h-4zM965 102h4v1h-4zM965 117h4v1h-4zM965 161h4v1h-4zM965 176h4v1h-4zM965 191h4v1h-4zM965 205h4v1h-4zM965 220h4v1h-4zM965 235h4v1h-4zM965 249h4v1h-4zM965 264h4v1h-4zM965 279h4v1h-4zM965 293h4v1h-4zM965 308h4v1h-4zM965 323h4v1h-4zM965 338h4v1h-4zM965 352h4v1h-4zM965 367h4v1h-4zM965 382h4v1h-4zM965 396h4v1h-4zM965 411h4v1h-4zM965 136h4v1h-4zM965 479h4v1h-4zM965 500h4v1h-4zM965 521h4v1h-4zM965 553h4v1h-4zM965 574h4v1h-4zM965 595h4v1h-4zM965 536h4v1h-4zM25 422h1v2h-1zM41 422h1v2h-1zM57 422h1v2h-1zM72 422h1v2h-1zM88 422h1v2h-1zM104 422h1v2h-1zM120 422h1v2h-1zM136 422h1v2h-1zM168 422h1v2h-1zM184 422h1v2h-1zM199 422h1v2h-1zM215 422h1v2h-1zM231 422h1v2h-1zM247 422h1v2h-1zM263 422h1v2h-1zM279 422h1v2h-1zM295 422h1v2h-1zM311 422h1v2h-1zM326 422h1v2h-1zM342 422h1v2h-1zM358 422h1v2h-1zM374 422h1v2h-1zM390 422h1v2h-1zM406 422h1v2h-1zM422 422h1v2h-1zM437 422h1v2h-1zM453 422h1v2h-1zM469 422h1v2h-1zM485 422h1v2h-1zM501 422h1v2h-1zM517 422h1v2h-1zM533 422h1v2h-1zM549 422h1v2h-1zM566 422h1v2h-1zM583 422h1v2h-1zM599 422h1v2h-1zM615 422h1v2h-1zM631 422h1v2h-1zM647 422h1v2h-1zM663 422h1v2h-1zM679 422h1v2h-1zM694 422h1v2h-1zM720 422h1v2h-1zM736 422h1v2h-1zM752 422h1v2h-1zM768 422h1v2h-1zM783 422h1v2h-1zM799 422h1v2h-1zM815 422h1v2h-1zM831 422h1v2h-1zM847 422h1v2h-1zM863 422h1v2h-1zM882 422h1v2h-1zM898 422h1v2h-1zM914 422h1v2h-1zM929 422h1v2h-1zM945 422h1v2h-1z" fill="#48482a"/>
<rect x="74.5" y="442.5" width="5" height="6" fill="none" stroke="#000"/><rect x="82.5" y="442.5" width="5" height="6" fill="none" stroke="#000"/><rect x="154.5" y="442.5" width="5" height="6" fill="none" stroke="#000"/><rect x="162.5" y="442.5" width="5" height="6" fill="none" stroke="#000"/><rect x="217.5" y="442.5" width="5" height="6" fill="none" stroke="#000"/><rect x="225.5" y="442.5" width="5" height="6" fill="none" stroke="#000"/><rect x="281.5" y="442.5" width="5" height="6" fill="none" stroke="#000"/><rect x="289.5" y="442.5" width="5" height="6" fill="none" stroke="#000"/><rect x="360.5" y="442.5" width="5" height="6" fill="none" stroke="#000"/><rect x="368.5" y="442.5" width="5" height="6" fill="none" stroke="#000"/><rect x="423.5" y="442.5" width="5" height="6" fill="none" stroke="#000"/><rect x="431.5" y="442.5" width="5" height="6" fill="none" stroke="#000"/><rect x="487.5" y="442.5" width="5" height="6" fill="none" stroke="#000"/><rect x="495.5" y="442.5" width="5" height="6" fill="none" stroke="#000"/><rect x="565.5" y="442.5" width="5" height="6" fill="none" stroke="#000"/><rect x="573.5" y="442.5" width="5" height="6" fill="none" stroke="#000"/><rect x="581.5" y="442.5" width="5" height="6" fill="none" stroke="#000"/><rect x="629.5" y="442.5" width="5" height="6" fill="none" stroke="#000"/><rect x="637.5" y="442.5" width="5" height="6" fill="none" stroke="#000"/><rect x="645.5" y="442.5" width="5" height="6" fill="none" stroke="#000"/><rect x="769.5" y="442.5" width="5" height="6" fill="none" stroke="#000"/><rect x="777.5" y="442.5" width="5" height="6" fill="none" stroke="#000"/><rect x="833.5" y="442.5" width="5" height="6" fill="none" stroke="#000"/><rect x="841.5" y="442.5" width="5" height="6" fill="none" stroke="#000"/><rect x="900.5" y="442.5" width="5" height="6" fill="none" stroke="#000"/><rect x="908.5" y="442.5" width="5" height="6" fill="none" stroke="#000"/>
<rect x="0" y="451" width="1014" height="1" fill="#ffffff"/><rect x="0" y="452" width="1014" height="8" fill="#f6f6f6"/><rect x="1" y="460" width="1013" height="1" fill="#888888"/><path d="M3 454h1v1h-1z M3 458h1v1h-1zM7 454h1v1h-1z M7 458h1v1h-1zM11 454h1v1h-1z M11 458h1v1h-1zM15 454h1v1h-1z M15 458h1v1h-1zM19 454h1v1h-1z M19 458h1v1h-1zM23 454h1v1h-1z M23 458h1v1h-1zM27 454h1v1h-1z M27 458h1v1h-1zM31 454h1v1h-1z M31 458h1v1h-1zM35 454h1v1h-1z M35 458h1v1h-1zM39 454h1v1h-1z M39 458h1v1h-1zM43 454h1v1h-1z M43 458h1v1h-1zM47 454h1v1h-1z M47 458h1v1h-1zM51 454h1v1h-1z M51 458h1v1h-1zM55 454h1v1h-1z M55 458h1v1h-1zM59 454h1v1h-1z M59 458h1v1h-1zM63 454h1v1h-1z M63 458h1v1h-1zM67 454h1v1h-1z M67 458h1v1h-1zM71 454h1v1h-1z M71 458h1v1h-1zM75 454h1v1h-1z M75 458h1v1h-1zM79 454h1v1h-1z M79 458h1v1h-1zM83 454h1v1h-1z M83 458h1v1h-1zM87 454h1v1h-1z M87 458h1v1h-1zM91 454h1v1h-1z M91 458h1v1h-1zM95 454h1v1h-1z M95 458h1v1h-1zM99 454h1v1h-1z M99 458h1v1h-1zM103 454h1v1h-1z M103 458h1v1h-1zM107 454h1v1h-1z M107 458h1v1h-1zM111 454h1v1h-1z M111 458h1v1h-1zM115 454h1v1h-1z M115 458h1v1h-1zM119 454h1v1h-1z M119 458h1v1h-1zM123 454h1v1h-1z M123 458h1v1h-1zM127 454h1v1h-1z M127 458h1v1h-1zM131 454h1v1h-1z M131 458h1v1h-1zM135 454h1v1h-1z M135 458h1v1h-1zM139 454h1v1h-1z M139 458h1v1h-1zM143 454h1v1h-1z M143 458h1v1h-1zM147 454h1v1h-1z M147 458h1v1h-1zM151 454h1v1h-1z M151 458h1v1h-1zM155 454h1v1h-1z M155 458h1v1h-1zM159 454h1v1h-1z M159 458h1v1h-1zM163 454h1v1h-1z M163 458h1v1h-1zM167 454h1v1h-1z M167 458h1v1h-1zM171 454h1v1h-1z M171 458h1v1h-1zM175 454h1v1h-1z M175 458h1v1h-1zM179 454h1v1h-1z M179 458h1v1h-1zM183 454h1v1h-1z M183 458h1v1h-1zM187 454h1v1h-1z M187 458h1v1h-1zM191 454h1v1h-1z M191 458h1v1h-1zM195 454h1v1h-1z M195 458h1v1h-1zM199 454h1v1h-1z M199 458h1v1h-1zM203 454h1v1h-1z M203 458h1v1h-1zM207 454h1v1h-1z M207 458h1v1h-1zM211 454h1v1h-1z M211 458h1v1h-1zM215 454h1v1h-1z M215 458h1v1h-1zM219 454h1v1h-1z M219 458h1v1h-1zM223 454h1v1h-1z M223 458h1v1h-1zM227 454h1v1h-1z M227 458h1v1h-1zM231 454h1v1h-1z M231 458h1v1h-1zM235 454h1v1h-1z M235 458h1v1h-1zM239 454h1v1h-1z M239 458h1v1h-1zM243 454h1v1h-1z M243 458h1v1h-1zM247 454h1v1h-1z M247 458h1v1h-1zM251 454h1v1h-1z M251 458h1v1h-1zM255 454h1v1h-1z M255 458h1v1h-1zM259 454h1v1h-1z M259 458h1v1h-1zM263 454h1v1h-1z M263 458h1v1h-1zM267 454h1v1h-1z M267 458h1v1h-1zM271 454h1v1h-1z M271 458h1v1h-1zM275 454h1v1h-1z M275 458h1v1h-1zM279 454h1v1h-1z M279 458h1v1h-1zM283 454h1v1h-1z M283 458h1v1h-1zM287 454h1v1h-1z M287 458h1v1h-1zM291 454h1v1h-1z M291 458h1v1h-1zM295 454h1v1h-1z M295 458h1v1h-1zM299 454h1v1h-1z M299 458h1v1h-1zM303 454h1v1h-1z M303 458h1v1h-1zM307 454h1v1h-1z M307 458h1v1h-1zM311 454h1v1h-1z M311 458h1v1h-1zM315 454h1v1h-1z M315 458h1v1h-1zM319 454h1v1h-1z M319 458h1v1h-1zM323 454h1v1h-1z M323 458h1v1h-1zM327 454h1v1h-1z M327 458h1v1h-1zM331 454h1v1h-1z M331 458h1v1h-1zM335 454h1v1h-1z M335 458h1v1h-1zM339 454h1v1h-1z M339 458h1v1h-1zM343 454h1v1h-1z M343 458h1v1h-1zM347 454h1v1h-1z M347 458h1v1h-1zM351 454h1v1h-1z M351 458h1v1h-1zM355 454h1v1h-1z M355 458h1v1h-1zM359 454h1v1h-1z M359 458h1v1h-1zM363 454h1v1h-1z M363 458h1v1h-1zM367 454h1v1h-1z M367 458h1v1h-1zM371 454h1v1h-1z M371 458h1v1h-1zM375 454h1v1h-1z M375 458h1v1h-1zM379 454h1v1h-1z M379 458h1v1h-1zM383 454h1v1h-1z M383 458h1v1h-1zM387 454h1v1h-1z M387 458h1v1h-1zM391 454h1v1h-1z M391 458h1v1h-1zM395 454h1v1h-1z M395 458h1v1h-1zM399 454h1v1h-1z M399 458h1v1h-1zM403 454h1v1h-1z M403 458h1v1h-1zM407 454h1v1h-1z M407 458h1v1h-1zM411 454h1v1h-1z M411 458h1v1h-1zM415 454h1v1h-1z M415 458h1v1h-1zM419 454h1v1h-1z M419 458h1v1h-1zM423 454h1v1h-1z M423 458h1v1h-1zM427 454h1v1h-1z M427 458h1v1h-1zM431 454h1v1h-1z M431 458h1v1h-1zM435 454h1v1h-1z M435 458h1v1h-1zM439 454h1v1h-1z M439 458h1v1h-1zM443 454h1v1h-1z M443 458h1v1h-1zM447 454h1v1h-1z M447 458h1v1h-1zM451 454h1v1h-1z M451 458h1v1h-1zM455 454h1v1h-1z M455 458h1v1h-1zM459 454h1v1h-1z M459 458h1v1h-1zM463 454h1v1h-1z M463 458h1v1h-1zM467 454h1v1h-1z M467 458h1v1h-1zM471 454h1v1h-1z M471 458h1v1h-1zM475 454h1v1h-1z M475 458h1v1h-1zM479 454h1v1h-1z M479 458h1v1h-1zM483 454h1v1h-1z M483 458h1v1h-1zM487 454h1v1h-1z M487 458h1v1h-1zM491 454h1v1h-1z M491 458h1v1h-1zM495 454h1v1h-1z M495 458h1v1h-1zM499 454h1v1h-1z M499 458h1v1h-1zM503 454h1v1h-1z M503 458h1v1h-1zM507 454h1v1h-1z M507 458h1v1h-1zM511 454h1v1h-1z M511 458h1v1h-1zM515 454h1v1h-1z M515 458h1v1h-1zM519 454h1v1h-1z M519 458h1v1h-1zM523 454h1v1h-1z M523 458h1v1h-1zM527 454h1v1h-1z M527 458h1v1h-1zM531 454h1v1h-1z M531 458h1v1h-1zM535 454h1v1h-1z M535 458h1v1h-1zM539 454h1v1h-1z M539 458h1v1h-1zM543 454h1v1h-1z M543 458h1v1h-1zM547 454h1v1h-1z M547 458h1v1h-1zM551 454h1v1h-1z M551 458h1v1h-1zM555 454h1v1h-1z M555 458h1v1h-1zM559 454h1v1h-1z M559 458h1v1h-1zM563 454h1v1h-1z M563 458h1v1h-1zM567 454h1v1h-1z M567 458h1v1h-1zM571 454h1v1h-1z M571 458h1v1h-1zM575 454h1v1h-1z M575 458h1v1h-1zM579 454h1v1h-1z M579 458h1v1h-1zM583 454h1v1h-1z M583 458h1v1h-1zM587 454h1v1h-1z M587 458h1v1h-1zM591 454h1v1h-1z M591 458h1v1h-1zM595 454h1v1h-1z M595 458h1v1h-1zM599 454h1v1h-1z M599 458h1v1h-1zM603 454h1v1h-1z M603 458h1v1h-1zM607 454h1v1h-1z M607 458h1v1h-1zM611 454h1v1h-1z M611 458h1v1h-1zM615 454h1v1h-1z M615 458h1v1h-1zM619 454h1v1h-1z M619 458h1v1h-1zM623 454h1v1h-1z M623 458h1v1h-1zM627 454h1v1h-1z M627 458h1v1h-1zM631 454h1v1h-1z M631 458h1v1h-1zM635 454h1v1h-1z M635 458h1v1h-1zM639 454h1v1h-1z M639 458h1v1h-1zM643 454h1v1h-1z M643 458h1v1h-1zM647 454h1v1h-1z M647 458h1v1h-1zM651 454h1v1h-1z M651 458h1v1h-1zM655 454h1v1h-1z M655 458h1v1h-1zM659 454h1v1h-1z M659 458h1v1h-1zM663 454h1v1h-1z M663 458h1v1h-1zM667 454h1v1h-1z M667 458h1v1h-1zM671 454h1v1h-1z M671 458h1v1h-1zM675 454h1v1h-1z M675 458h1v1h-1zM679 454h1v1h-1z M679 458h1v1h-1zM683 454h1v1h-1z M683 458h1v1h-1zM687 454h1v1h-1z M687 458h1v1h-1zM691 454h1v1h-1z M691 458h1v1h-1zM695 454h1v1h-1z M695 458h1v1h-1zM699 454h1v1h-1z M699 458h1v1h-1zM703 454h1v1h-1z M703 458h1v1h-1zM707 454h1v1h-1z M707 458h1v1h-1zM711 454h1v1h-1z M711 458h1v1h-1zM715 454h1v1h-1z M715 458h1v1h-1zM719 454h1v1h-1z M719 458h1v1h-1zM723 454h1v1h-1z M723 458h1v1h-1zM727 454h1v1h-1z M727 458h1v1h-1zM731 454h1v1h-1z M731 458h1v1h-1zM735 454h1v1h-1z M735 458h1v1h-1zM739 454h1v1h-1z M739 458h1v1h-1zM743 454h1v1h-1z M743 458h1v1h-1zM747 454h1v1h-1z M747 458h1v1h-1zM751 454h1v1h-1z M751 458h1v1h-1zM755 454h1v1h-1z M755 458h1v1h-1zM759 454h1v1h-1z M759 458h1v1h-1zM763 454h1v1h-1z M763 458h1v1h-1zM767 454h1v1h-1z M767 458h1v1h-1zM771 454h1v1h-1z M771 458h1v1h-1zM775 454h1v1h-1z M775 458h1v1h-1zM779 454h1v1h-1z M779 458h1v1h-1zM783 454h1v1h-1z M783 458h1v1h-1zM787 454h1v1h-1z M787 458h1v1h-1zM791 454h1v1h-1z M791 458h1v1h-1zM795 454h1v1h-1z M795 458h1v1h-1zM799 454h1v1h-1z M799 458h1v1h-1zM803 454h1v1h-1z M803 458h1v1h-1zM807 454h1v1h-1z M807 458h1v1h-1zM811 454h1v1h-1z M811 458h1v1h-1zM815 454h1v1h-1z M815 458h1v1h-1zM819 454h1v1h-1z M819 458h1v1h-1zM823 454h1v1h-1z M823 458h1v1h-1zM827 454h1v1h-1z M827 458h1v1h-1zM831 454h1v1h-1z M831 458h1v1h-1zM835 454h1v1h-1z M835 458h1v1h-1zM839 454h1v1h-1z M839 458h1v1h-1zM843 454h1v1h-1z M843 458h1v1h-1zM847 454h1v1h-1z M847 458h1v1h-1zM851 454h1v1h-1z M851 458h1v1h-1zM855 454h1v1h-1z M855 458h1v1h-1zM859 454h1v1h-1z M859 458h1v1h-1zM863 454h1v1h-1z M863 458h1v1h-1zM867 454h1v1h-1z M867 458h1v1h-1zM871 454h1v1h-1z M871 458h1v1h-1zM875 454h1v1h-1z M875 458h1v1h-1zM879 454h1v1h-1z M879 458h1v1h-1zM883 454h1v1h-1z M883 458h1v1h-1zM887 454h1v1h-1z M887 458h1v1h-1zM891 454h1v1h-1z M891 458h1v1h-1zM895 454h1v1h-1z M895 458h1v1h-1zM899 454h1v1h-1z M899 458h1v1h-1zM903 454h1v1h-1z M903 458h1v1h-1zM907 454h1v1h-1z M907 458h1v1h-1zM911 454h1v1h-1z M911 458h1v1h-1zM915 454h1v1h-1z M915 458h1v1h-1zM919 454h1v1h-1z M919 458h1v1h-1zM923 454h1v1h-1z M923 458h1v1h-1zM927 454h1v1h-1z M927 458h1v1h-1zM931 454h1v1h-1z M931 458h1v1h-1zM935 454h1v1h-1z M935 458h1v1h-1zM939 454h1v1h-1z M939 458h1v1h-1zM943 454h1v1h-1z M943 458h1v1h-1zM947 454h1v1h-1z M947 458h1v1h-1zM951 454h1v1h-1z M951 458h1v1h-1zM955 454h1v1h-1z M955 458h1v1h-1zM959 454h1v1h-1z M959 458h1v1h-1zM963 454h1v1h-1z M963 458h1v1h-1zM967 454h1v1h-1z M967 458h1v1h-1zM971 454h1v1h-1z M971 458h1v1h-1zM975 454h1v1h-1z M975 458h1v1h-1zM979 454h1v1h-1z M979 458h1v1h-1zM983 454h1v1h-1z M983 458h1v1h-1zM987 454h1v1h-1z M987 458h1v1h-1zM991 454h1v1h-1z M991 458h1v1h-1zM995 454h1v1h-1z M995 458h1v1h-1zM999 454h1v1h-1z M999 458h1v1h-1zM1003 454h1v1h-1z M1003 458h1v1h-1zM1 456h1v1h-1zM5 456h1v1h-1zM9 456h1v1h-1zM13 456h1v1h-1zM17 456h1v1h-1zM21 456h1v1h-1zM25 456h1v1h-1zM29 456h1v1h-1zM33 456h1v1h-1zM37 456h1v1h-1zM41 456h1v1h-1zM45 456h1v1h-1zM49 456h1v1h-1zM53 456h1v1h-1zM57 456h1v1h-1zM61 456h1v1h-1zM65 456h1v1h-1zM69 456h1v1h-1zM73 456h1v1h-1zM77 456h1v1h-1zM81 456h1v1h-1zM85 456h1v1h-1zM89 456h1v1h-1zM93 456h1v1h-1zM97 456h1v1h-1zM101 456h1v1h-1zM105 456h1v1h-1zM109 456h1v1h-1zM113 456h1v1h-1zM117 456h1v1h-1zM121 456h1v1h-1zM125 456h1v1h-1zM129 456h1v1h-1zM133 456h1v1h-1zM137 456h1v1h-1zM141 456h1v1h-1zM145 456h1v1h-1zM149 456h1v1h-1zM153 456h1v1h-1zM157 456h1v1h-1zM161 456h1v1h-1zM165 456h1v1h-1zM169 456h1v1h-1zM173 456h1v1h-1zM177 456h1v1h-1zM181 456h1v1h-1zM185 456h1v1h-1zM189 456h1v1h-1zM193 456h1v1h-1zM197 456h1v1h-1zM201 456h1v1h-1zM205 456h1v1h-1zM209 456h1v1h-1zM213 456h1v1h-1zM217 456h1v1h-1zM221 456h1v1h-1zM225 456h1v1h-1zM229 456h1v1h-1zM233 456h1v1h-1zM237 456h1v1h-1zM241 456h1v1h-1zM245 456h1v1h-1zM249 456h1v1h-1zM253 456h1v1h-1zM257 456h1v1h-1zM261 456h1v1h-1zM265 456h1v1h-1zM269 456h1v1h-1zM273 456h1v1h-1zM277 456h1v1h-1zM281 456h1v1h-1zM285 456h1v1h-1zM289 456h1v1h-1zM293 456h1v1h-1zM297 456h1v1h-1zM301 456h1v1h-1zM305 456h1v1h-1zM309 456h1v1h-1zM313 456h1v1h-1zM317 456h1v1h-1zM321 456h1v1h-1zM325 456h1v1h-1zM329 456h1v1h-1zM333 456h1v1h-1zM337 456h1v1h-1zM341 456h1v1h-1zM345 456h1v1h-1zM349 456h1v1h-1zM353 456h1v1h-1zM357 456h1v1h-1zM361 456h1v1h-1zM365 456h1v1h-1zM369 456h1v1h-1zM373 456h1v1h-1zM377 456h1v1h-1zM381 456h1v1h-1zM385 456h1v1h-1zM389 456h1v1h-1zM393 456h1v1h-1zM397 456h1v1h-1zM401 456h1v1h-1zM405 456h1v1h-1zM409 456h1v1h-1zM413 456h1v1h-1zM417 456h1v1h-1zM421 456h1v1h-1zM425 456h1v1h-1zM429 456h1v1h-1zM433 456h1v1h-1zM437 456h1v1h-1zM441 456h1v1h-1zM445 456h1v1h-1zM449 456h1v1h-1zM453 456h1v1h-1zM457 456h1v1h-1zM461 456h1v1h-1zM465 456h1v1h-1zM469 456h1v1h-1zM473 456h1v1h-1zM477 456h1v1h-1zM481 456h1v1h-1zM485 456h1v1h-1zM489 456h1v1h-1zM493 456h1v1h-1zM497 456h1v1h-1zM501 456h1v1h-1zM505 456h1v1h-1zM509 456h1v1h-1zM513 456h1v1h-1zM517 456h1v1h-1zM521 456h1v1h-1zM525 456h1v1h-1zM529 456h1v1h-1zM533 456h1v1h-1zM537 456h1v1h-1zM541 456h1v1h-1zM545 456h1v1h-1zM549 456h1v1h-1zM553 456h1v1h-1zM557 456h1v1h-1zM561 456h1v1h-1zM565 456h1v1h-1zM569 456h1v1h-1zM573 456h1v1h-1zM577 456h1v1h-1zM581 456h1v1h-1zM585 456h1v1h-1zM589 456h1v1h-1zM593 456h1v1h-1zM597 456h1v1h-1zM601 456h1v1h-1zM605 456h1v1h-1zM609 456h1v1h-1zM613 456h1v1h-1zM617 456h1v1h-1zM621 456h1v1h-1zM625 456h1v1h-1zM629 456h1v1h-1zM633 456h1v1h-1zM637 456h1v1h-1zM641 456h1v1h-1zM645 456h1v1h-1zM649 456h1v1h-1zM653 456h1v1h-1zM657 456h1v1h-1zM661 456h1v1h-1zM665 456h1v1h-1zM669 456h1v1h-1zM673 456h1v1h-1zM677 456h1v1h-1zM681 456h1v1h-1zM685 456h1v1h-1zM689 456h1v1h-1zM693 456h1v1h-1zM697 456h1v1h-1zM701 456h1v1h-1zM705 456h1v1h-1zM709 456h1v1h-1zM713 456h1v1h-1zM717 456h1v1h-1zM721 456h1v1h-1zM725 456h1v1h-1zM729 456h1v1h-1zM733 456h1v1h-1zM737 456h1v1h-1zM741 456h1v1h-1zM745 456h1v1h-1zM749 456h1v1h-1zM753 456h1v1h-1zM757 456h1v1h-1zM761 456h1v1h-1zM765 456h1v1h-1zM769 456h1v1h-1zM773 456h1v1h-1zM777 456h1v1h-1zM781 456h1v1h-1zM785 456h1v1h-1zM789 456h1v1h-1zM793 456h1v1h-1zM797 456h1v1h-1zM801 456h1v1h-1zM805 456h1v1h-1zM809 456h1v1h-1zM813 456h1v1h-1zM817 456h1v1h-1zM821 456h1v1h-1zM825 456h1v1h-1zM829 456h1v1h-1zM833 456h1v1h-1zM837 456h1v1h-1zM841 456h1v1h-1zM845 456h1v1h-1zM849 456h1v1h-1zM853 456h1v1h-1zM857 456h1v1h-1zM861 456h1v1h-1zM865 456h1v1h-1zM869 456h1v1h-1zM873 456h1v1h-1zM877 456h1v1h-1zM881 456h1v1h-1zM885 456h1v1h-1zM889 456h1v1h-1zM893 456h1v1h-1zM897 456h1v1h-1zM901 456h1v1h-1zM905 456h1v1h-1zM909 456h1v1h-1zM913 456h1v1h-1zM917 456h1v1h-1zM921 456h1v1h-1zM925 456h1v1h-1zM929 456h1v1h-1zM933 456h1v1h-1zM937 456h1v1h-1zM941 456h1v1h-1zM945 456h1v1h-1zM949 456h1v1h-1zM953 456h1v1h-1zM957 456h1v1h-1zM961 456h1v1h-1zM965 456h1v1h-1zM969 456h1v1h-1zM973 456h1v1h-1zM977 456h1v1h-1zM981 456h1v1h-1zM985 456h1v1h-1zM989 456h1v1h-1zM993 456h1v1h-1zM997 456h1v1h-1zM1001 456h1v1h-1z" fill="#6e6e6e"/><path d="M13.5 457.5L18 453.5L22 457.5Z" fill="#bcbcbc"/><path d="M11.5 458.5L16.5 453.5L17.5 453.5" fill="none" stroke="#000"/><path d="M27.5 454L36.5 454L32 458.5Z" fill="#bcbcbc"/><rect x="27" y="453" width="10" height="1" fill="#000"/><rect x="1006" y="452" width="8" height="8" fill="#fafafa"/><rect x="1006" y="452" width="1" height="8" fill="#8a8a8a"/><rect x="1006" y="452" width="7" height="1" fill="#8a8a8a"/><path d="M1007 453h2v2h-2zM1011 453h2v2h-2zM1008 455h4v2h-4zM1009 457h2v1h-2zM1007 457h2v2h-2zM1011 457h2v2h-2z" fill="#6a6a6a"/>
</g>
<defs><filter id="crisp2" x="0" y="0" width="1015" height="614" filterUnits="userSpaceOnUse"><feComponentTransfer><feFuncA type="discrete" tableValues="0 0 1 1 1"/></feComponentTransfer></filter><filter id="crisp" x="0" y="0" width="1015" height="614" filterUnits="userSpaceOnUse"><feComponentTransfer><feFuncA type="discrete" tableValues="0 1"/></feComponentTransfer></filter><clipPath id="cm"><rect x="5" y="13" width="959" height="408"/></clipPath>
<clipPath id="cr"><rect x="5" y="462" width="959" height="146"/></clipPath></defs>
<g filter="url(#crisp)"><text x="969.25 975.5 981.5 987.75 990.5 996.5" y="33" font-family="Liberation Sans, Arial, sans-serif" font-size="11" fill="#000" >122.00</text><text x="969.25 975.5 981.25 987.75 990.25 996.5" y="48" font-family="Liberation Sans, Arial, sans-serif" font-size="11" fill="#000" >121.50</text><text x="969.25 975.5 981.25 987.75 990.5 996.5" y="62" font-family="Liberation Sans, Arial, sans-serif" font-size="11" fill="#000" >121.00</text><text x="969.25 975.5 981.5 987.75 990.25 996.5" y="77" font-family="Liberation Sans, Arial, sans-serif" font-size="11" fill="#000" >120.50</text><text x="969.25 975.5 981.5 987.75 990.5 996.5" y="92" font-family="Liberation Sans, Arial, sans-serif" font-size="11" fill="#000" >120.00</text><text x="969.25 975.25 981.5 987.75 990.25 996.5" y="106" font-family="Liberation Sans, Arial, sans-serif" font-size="11" fill="#000" >119.50</text><text x="969.25 975.25 981.5 987.75 990.5 996.5" y="121" font-family="Liberation Sans, Arial, sans-serif" font-size="11" fill="#000" >119.00</text><text x="969.25 975.25 981 987.75 990.25 996.5" y="165" font-family="Liberation Sans, Arial, sans-serif" font-size="11" fill="#000" >117.50</text><text x="969.25 975.25 981 987.75 990.5 996.5" y="180" font-family="Liberation Sans, Arial, sans-serif" font-size="11" fill="#000" >117.00</text><text x="969.25 975.25 981.25 987.75 990.25 996.5" y="195" font-family="Liberation Sans, Arial, sans-serif" font-size="11" fill="#000" >116.50</text><text x="969.25 975.25 981.25 987.75 990.5 996.5" y="209" font-family="Liberation Sans, Arial, sans-serif" font-size="11" fill="#000" >116.00</text><text x="969.25 975.25 981.25 987.75 990.25 996.5" y="224" font-family="Liberation Sans, Arial, sans-serif" font-size="11" fill="#000" >115.50</text><text x="969.25 975.25 981.25 987.75 990.5 996.5" y="239" font-family="Liberation Sans, Arial, sans-serif" font-size="11" fill="#000" >115.00</text><text x="969.25 975.25 981.25 987.75 990.25 996.5" y="253" font-family="Liberation Sans, Arial, sans-serif" font-size="11" fill="#000" >114.50</text><text x="969.25 975.25 981.25 987.75 990.5 996.5" y="268" font-family="Liberation Sans, Arial, sans-serif" font-size="11" fill="#000" >114.00</text><text x="969.25 975.25 981.5 987.75 990.25 996.5" y="283" font-family="Liberation Sans, Arial, sans-serif" font-size="11" fill="#000" >113.50</text><text x="969.25 975.25 981.5 987.75 990.5 996.5" y="297" font-family="Liberation Sans, Arial, sans-serif" font-size="11" fill="#000" >113.00</text><text x="969.25 975.25 981.5 987.75 990.25 996.5" y="312" font-family="Liberation Sans, Arial, sans-serif" font-size="11" fill="#000" >112.50</text><text x="969.25 975.25 981.5 987.75 990.5 996.5" y="327" font-family="Liberation Sans, Arial, sans-serif" font-size="11" fill="#000" >112.00</text><text x="969.25 975.25 981.25 987.75 990.25 996.5" y="342" font-family="Liberation Sans, Arial, sans-serif" font-size="11" fill="#000" >111.50</text><text x="969.25 975.25 981.25 987.75 990.5 996.5" y="356" font-family="Liberation Sans, Arial, sans-serif" font-size="11" fill="#000" >111.00</text><text x="969.25 975.25 981.5 987.75 990.25 996.5" y="371" font-family="Liberation Sans, Arial, sans-serif" font-size="11" fill="#000" >110.50</text><text x="969.25 975.25 981.5 987.75 990.5 996.5" y="386" font-family="Liberation Sans, Arial, sans-serif" font-size="11" fill="#000" >110.00</text><text x="969.25 975.5 981.5 987.75 990.25 996.5" y="400" font-family="Liberation Sans, Arial, sans-serif" font-size="11" fill="#000" >109.50</text><text x="969.25 975.5 981.5 987.75 990.5 996.5" y="415" font-family="Liberation Sans, Arial, sans-serif" font-size="11" fill="#000" >109.00</text><text x="969.25 975.25 981.5 987.75 990.5 996.25" y="140" font-family="Liberation Sans, Arial, sans-serif" font-size="11" fill="#0000ff" >118.36</text><text x="969 975.25 981.75 984.5 990.5" y="483" font-family="Liberation Sans, Arial, sans-serif" font-size="11" fill="#000" >75.00</text><text x="969.25 975.25 981.75 984.5 990.5" y="504" font-family="Liberation Sans, Arial, sans-serif" font-size="11" fill="#000" >65.00</text><text x="969.25 975.25 981.75 984.5 990.5" y="525" font-family="Liberation Sans, Arial, sans-serif" font-size="11" fill="#000" >55.00</text><text x="969.25 975.5 981.75 984.5 990.5" y="557" font-family="Liberation Sans, Arial, sans-serif" font-size="11" fill="#000" >40.00</text><text x="969.5 975.5 981.75 984.5 990.5" y="578" font-family="Liberation Sans, Arial, sans-serif" font-size="11" fill="#000" >30.00</text><text x="969.5 975.5 981.75 984.5 990.5" y="599" font-family="Liberation Sans, Arial, sans-serif" font-size="11" fill="#000" >20.00</text><text x="969.25 975 981.75 984 990.5" y="540" font-family="Liberation Sans, Arial, sans-serif" font-size="11" fill="#0000ff" >47.78</text><text x="19.5 25.25" y="435" font-family="Liberation Sans, Arial, sans-serif" font-size="11" fill="#000" >06</text><text x="35.25 41.5" y="435" font-family="Liberation Sans, Arial, sans-serif" font-size="11" fill="#000" >13</text><text x="51.5 57.5" y="435" font-family="Liberation Sans, Arial, sans-serif" font-size="11" fill="#000" >20</text><text x="66.5 72" y="435" font-family="Liberation Sans, Arial, sans-serif" font-size="11" fill="#000" >27</text><text x="82.5 88.5" y="435" font-family="Liberation Sans, Arial, sans-serif" font-size="11" fill="#000" >03</text><text x="98.25 104.5" y="435" font-family="Liberation Sans, Arial, sans-serif" font-size="11" fill="#000" >10</text><text x="114.25 120" y="435" font-family="Liberation Sans, Arial, sans-serif" font-size="11" fill="#000" >17</text><text x="130.5 136.25" y="435" font-family="Liberation Sans, Arial, sans-serif" font-size="11" fill="#000" >24</text><text x="162.5 168.5" y="435" font-family="Liberation Sans, Arial, sans-serif" font-size="11" fill="#000" >08</text><text x="178.25 184.25" y="435" font-family="Liberation Sans, Arial, sans-serif" font-size="11" fill="#000" >15</text><text x="193.5 199.5" y="435" font-family="Liberation Sans, Arial, sans-serif" font-size="11" fill="#000" >22</text><text x="209.5 215.5" y="435" font-family="Liberation Sans, Arial, sans-serif" font-size="11" fill="#000" >29</text><text x="225.5 231.25" y="435" font-family="Liberation Sans, Arial, sans-serif" font-size="11" fill="#000" >05</text><text x="241.25 247.5" y="435" font-family="Liberation Sans, Arial, sans-serif" font-size="11" fill="#000" >12</text><text x="257.25 263.5" y="435" font-family="Liberation Sans, Arial, sans-serif" font-size="11" fill="#000" >19</text><text x="273.5 279.25" y="435" font-family="Liberation Sans, Arial, sans-serif" font-size="11" fill="#000" >26</text><text x="289.5 295.5" y="435" font-family="Liberation Sans, Arial, sans-serif" font-size="11" fill="#000" >03</text><text x="305.25 311.5" y="435" font-family="Liberation Sans, Arial, sans-serif" font-size="11" fill="#000" >10</text><text x="320.25 326" y="435" font-family="Liberation Sans, Arial, sans-serif" font-size="11" fill="#000" >17</text><text x="336.5 342.25" y="435" font-family="Liberation Sans, Arial, sans-serif" font-size="11" fill="#000" >24</text><text x="352.5 358.25" y="435" font-family="Liberation Sans, Arial, sans-serif" font-size="11" fill="#000" >31</text><text x="368.5 374" y="435" font-family="Liberation Sans, Arial, sans-serif" font-size="11" fill="#000" >07</text><text x="384.25 390.25" y="435" font-family="Liberation Sans, Arial, sans-serif" font-size="11" fill="#000" >14</text><text x="400.5 406.25" y="435" font-family="Liberation Sans, Arial, sans-serif" font-size="11" fill="#000" >21</text><text x="416.5 422.5" y="435" font-family="Liberation Sans, Arial, sans-serif" font-size="11" fill="#000" >28</text><text x="431.5 437.25" y="435" font-family="Liberation Sans, Arial, sans-serif" font-size="11" fill="#000" >04</text><text x="447.25 453.25" y="435" font-family="Liberation Sans, Arial, sans-serif" font-size="11" fill="#000" >11</text><text x="463.25 469.5" y="435" font-family="Liberation Sans, Arial, sans-serif" font-size="11" fill="#000" >18</text><text x="479.5 485.25" y="435" font-family="Liberation Sans, Arial, sans-serif" font-size="11" fill="#000" >25</text><text x="495.5 501.5" y="435" font-family="Liberation Sans, Arial, sans-serif" font-size="11" fill="#000" >02</text><text x="511.5 517.5" y="435" font-family="Liberation Sans, Arial, sans-serif" font-size="11" fill="#000" >09</text><text x="527.25 533.25" y="435" font-family="Liberation Sans, Arial, sans-serif" font-size="11" fill="#000" >16</text><text x="543.5 549.5" y="435" font-family="Liberation Sans, Arial, sans-serif" font-size="11" fill="#000" >23</text><text x="560.5 566.5" y="435" font-family="Liberation Sans, Arial, sans-serif" font-size="11" fill="#000" >30</text><text x="577.5 583.25" y="435" font-family="Liberation Sans, Arial, sans-serif" font-size="11" fill="#000" >06</text><text x="593.25 599.5" y="435" font-family="Liberation Sans, Arial, sans-serif" font-size="11" fill="#000" >13</text><text x="609.5 615.5" y="435" font-family="Liberation Sans, Arial, sans-serif" font-size="11" fill="#000" >20</text><text x="625.5 631" y="435" font-family="Liberation Sans, Arial, sans-serif" font-size="11" fill="#000" >27</text><text x="641.5 647.25" y="435" font-family="Liberation Sans, Arial, sans-serif" font-size="11" fill="#000" >04</text><text x="657.25 663.25" y="435" font-family="Liberation Sans, Arial, sans-serif" font-size="11" fill="#000" >11</text><text x="673.25 679.5" y="435" font-family="Liberation Sans, Arial, sans-serif" font-size="11" fill="#000" >18</text><text x="688.5 694.25" y="435" font-family="Liberation Sans, Arial, sans-serif" font-size="11" fill="#000" >25</text><text x="714.5 720.5" y="435" font-family="Liberation Sans, Arial, sans-serif" font-size="11" fill="#000" >08</text><text x="730.25 736.25" y="435" font-family="Liberation Sans, Arial, sans-serif" font-size="11" fill="#000" >15</text><text x="746.5 752.5" y="435" font-family="Liberation Sans, Arial, sans-serif" font-size="11" fill="#000" >22</text><text x="762.5 768.5" y="435" font-family="Liberation Sans, Arial, sans-serif" font-size="11" fill="#000" >29</text><text x="777.5 783.25" y="435" font-family="Liberation Sans, Arial, sans-serif" font-size="11" fill="#000" >05</text><text x="793.25 799.5" y="435" font-family="Liberation Sans, Arial, sans-serif" font-size="11" fill="#000" >12</text><text x="809.25 815.5" y="435" font-family="Liberation Sans, Arial, sans-serif" font-size="11" fill="#000" >19</text><text x="825.5 831.25" y="435" font-family="Liberation Sans, Arial, sans-serif" font-size="11" fill="#000" >26</text><text x="841.5 847.25" y="435" font-family="Liberation Sans, Arial, sans-serif" font-size="11" fill="#000" >05</text><text x="857.25 863.5" y="435" font-family="Liberation Sans, Arial, sans-serif" font-size="11" fill="#000" >12</text><text x="876.25 882.5" y="435" font-family="Liberation Sans, Arial, sans-serif" font-size="11" fill="#000" >19</text><text x="892.5 898.25" y="435" font-family="Liberation Sans, Arial, sans-serif" font-size="11" fill="#000" >26</text><text x="908.5 914.5" y="435" font-family="Liberation Sans, Arial, sans-serif" font-size="11" fill="#000" >02</text><text x="923.5 929.5" y="435" font-family="Liberation Sans, Arial, sans-serif" font-size="11" fill="#000" >09</text><text x="939.25 945.25" y="435" font-family="Liberation Sans, Arial, sans-serif" font-size="11" fill="#000" >16</text><text x="4.5 10.5 16 19.5 25.25 31 34.5 40.25" y="449" font-family="Liberation Sans, Arial, sans-serif" font-size="11" fill="#000" >03/06/06</text><text x="89 92.5 98.5" y="449" font-family="Liberation Sans, Arial, sans-serif" font-size="11" fill="#000" >/03</text><text x="169 172.5 178.5" y="449" font-family="Liberation Sans, Arial, sans-serif" font-size="11" fill="#000" >/08</text><text x="232 235.5 241.25" y="449" font-family="Liberation Sans, Arial, sans-serif" font-size="11" fill="#000" >/05</text><text x="296 299.5 305.5" y="449" font-family="Liberation Sans, Arial, sans-serif" font-size="11" fill="#000" >/03</text><text x="375 378.5 384" y="449" font-family="Liberation Sans, Arial, sans-serif" font-size="11" fill="#000" >/07</text><text x="438 441.5 447.25" y="449" font-family="Liberation Sans, Arial, sans-serif" font-size="11" fill="#000" >/04</text><text x="502 505.5 511.5" y="449" font-family="Liberation Sans, Arial, sans-serif" font-size="11" fill="#000" >/02</text><text x="588 591.5 597.25" y="449" font-family="Liberation Sans, Arial, sans-serif" font-size="11" fill="#000" >/06</text><text x="652 655.5 661.25" y="449" font-family="Liberation Sans, Arial, sans-serif" font-size="11" fill="#000" >/04</text><text x="700.5 706.25 712 715.5 721.5 727 730.5 736" y="449" font-family="Liberation Sans, Arial, sans-serif" font-size="11" fill="#000" >01/08/07</text><text x="784 787.5 793.25" y="449" font-family="Liberation Sans, Arial, sans-serif" font-size="11" fill="#000" >/05</text><text x="848 851.5 857.25" y="449" font-family="Liberation Sans, Arial, sans-serif" font-size="11" fill="#000" >/05</text><text x="915 918.5 924.5" y="449" font-family="Liberation Sans, Arial, sans-serif" font-size="11" fill="#000" >/02</text></g>
<g filter="url(#crisp2)"><text x="4 11.25 17 25 29.25 33 40.75 43 51 54 56 63.5 69.25 71.25 74.75 80 83 86.75 89 94.5 100.5 106.5" y="11" font-family="Liberation Sans, Arial, sans-serif"  fill="#000" font-size="11">USD/JPY , Daily, # 300</text><text x="113 116 117.75 126 133.25 141 146.25 153.25 156 159.25 165.5 171.25 177.25 183.25 190.5 196.75 198.5 203.25" y="11" font-family="Liberation Sans, Arial, sans-serif"  fill="#3c3cff" font-size="11">, MVG(1) 10=119.01</text><text x="211 214 215.75 224 231.25 239 243.5 251.25 254 257.5 263.5 269.25 275.25 281.25 288.5 294.75 296.5 302.5" y="11" font-family="Liberation Sans, Arial, sans-serif"  fill="#008a3c" font-size="11">, MVG(2) 30=118.20</text><text x="4 11.25 18 20 24.25 31.25 34 37.25 43.25 49.25 55.25 62 68.75 70 76.5" y="471" font-family="Liberation Sans, Arial, sans-serif"  fill="#ff0000" font-size="11">RSI(1) 14=47.78</text></g>
</svg>
</body></html>
